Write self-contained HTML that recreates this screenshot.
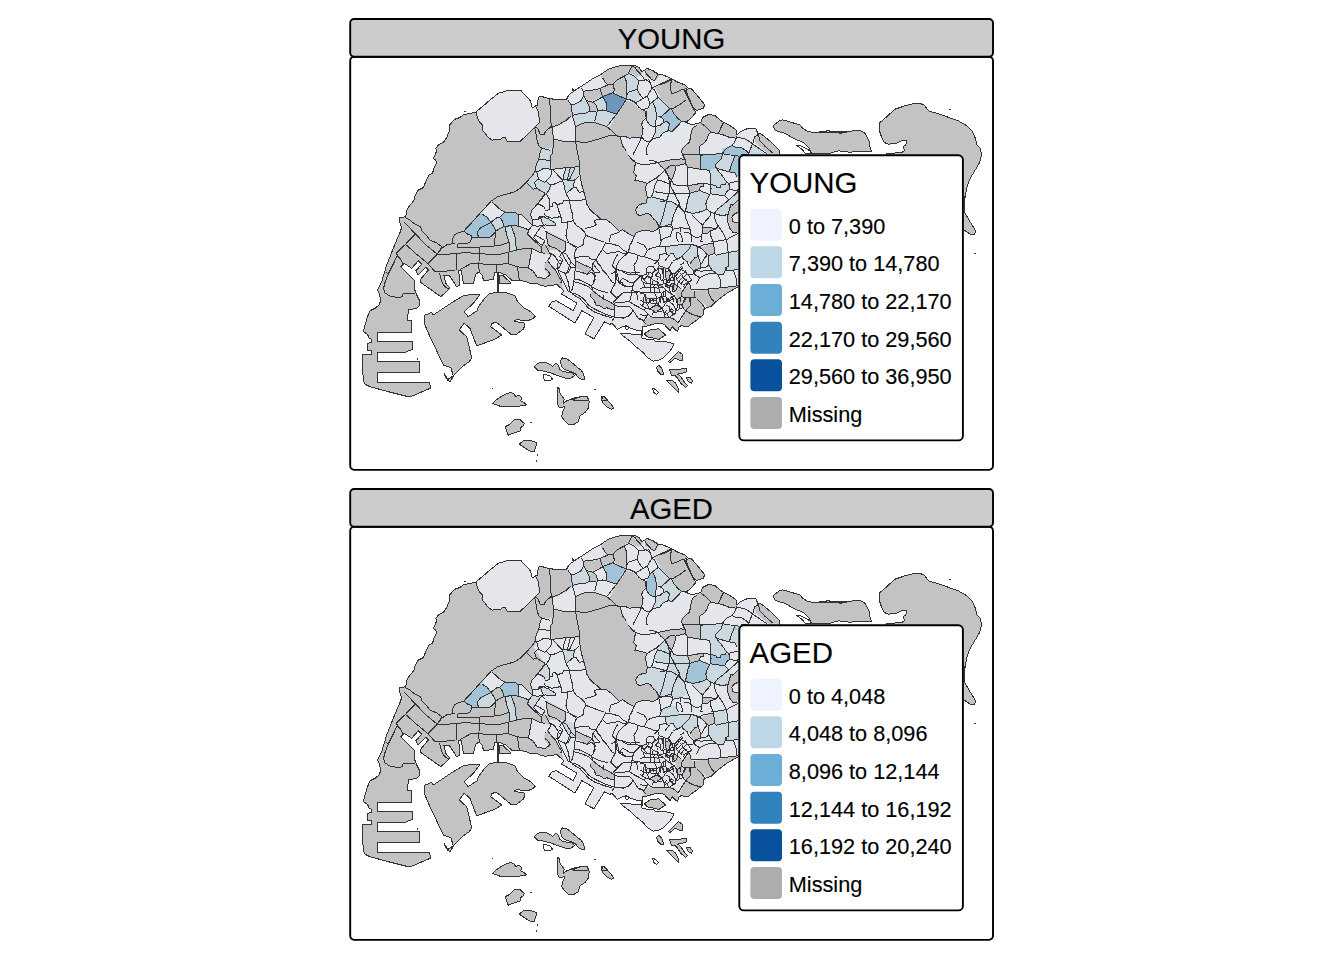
<!DOCTYPE html>
<html><head><meta charset="utf-8"><title>YOUNG / AGED</title>
<style>
html,body{margin:0;padding:0;background:#fff;}
body{width:1344px;height:960px;overflow:hidden;font-family:"Liberation Sans",sans-serif;}
svg{display:block;}
svg text{font-family:"Liberation Sans",sans-serif;fill:#000;stroke:#000;stroke-width:0.15px;}
</style></head><body>
<svg width="1344" height="960" viewBox="0 0 1344 960">
<defs>
<g id="basefill">
<path d="M415.0,195.8 418.3,190.0 421.3,188.7 423.3,187.5 425.8,181.7 429.2,175.0 432.5,173.3 434.2,167.5 436.3,163.3 435.8,160.0 433.3,158.7 435.0,155.0 436.7,150.8 435.8,148.3 438.3,145.0 443.3,142.5 446.7,137.5 448.3,133.3 450.0,130.8 449.7,125.0 451.7,122.5 455.0,119.2 460.0,117.5 463.3,115.0 469.2,113.3 475.8,112.5 478.3,110.0 483.3,105.8 490.0,100.0 498.3,93.3 506.7,90.8 520.8,90.3 524.2,94.2 528.3,98.3 530.8,101.7 531.7,106.7 533.3,107.5 535.0,105.8 537.5,105.0 538.3,97.5 540.8,96.3 548.3,98.3 556.7,99.7 566.7,99.2 568.3,95.8 571.7,92.5 573.3,91.7 572.5,88.3 574.2,90.8 583.3,85.0 593.3,78.3 600.0,75.0 608.3,69.2 616.7,66.3 626.7,65.0 635.0,65.3 639.2,67.5 641.7,71.7 645.0,70.0 646.7,68.3 653.3,70.8 658.3,74.2 663.3,75.0 670.8,78.3 676.7,81.7 685.0,85.0 687.5,87.5 684.2,89.7 686.7,95.0 691.7,105.0 694.2,110.0 695.8,112.5 691.7,117.5 686.7,121.7 685.0,122.0 691.7,124.7 698.3,123.3 700.8,122.5 702.5,117.5 708.8,114.4 715.0,115.6 720.0,120.0 723.8,122.5 730.0,125.6 736.2,130.0 736.9,135.0 740.0,131.9 745.0,129.4 750.0,128.1 755.6,128.5 758.1,133.8 760.0,133.1 765.0,136.9 770.0,141.2 775.0,146.2 779.4,150.6 779.4,156.2 800.0,170.0 900.0,230.0 900.0,270.0 760.0,288.0 738.3,286.7 726.7,293.3 720.0,298.3 713.3,304.2 710.8,306.7 706.7,307.5 703.3,310.0 703.3,315.0 696.7,320.0 690.0,325.0 688.3,326.7 681.7,325.8 679.4,326.2 677.5,331.2 675.6,330.0 672.5,326.9 670.0,330.6 667.5,328.1 664.4,324.4 660.0,323.1 655.0,323.8 646.2,326.2 643.1,326.2 641.9,330.0 636.2,330.0 630.0,328.1 626.2,325.6 622.5,326.9 617.5,329.4 611.9,323.1 610.0,324.4 604.4,321.9 593.8,338.8 585.0,333.8 593.8,317.5 581.9,310.6 575.0,323.1 548.8,306.2 551.9,301.9 556.2,300.6 573.1,310.6 576.9,303.1 561.2,293.8 563.8,291.2 562.5,289.4 559.4,286.9 556.9,284.4 551.2,285.6 545.0,286.2 540.0,285.0 536.2,283.1 530.0,283.8 526.7,281.7 518.3,280.0 512.5,280.8 505.8,275.0 498.3,272.0 495.0,272.5 493.3,279.3 487.5,280.3 483.3,280.0 482.5,275.8 479.2,271.7 475.8,274.2 473.3,283.3 463.3,283.3 461.3,270.3 458.7,270.3 460.0,285.3 456.7,286.7 449.2,275.3 443.7,275.0 445.8,283.3 450.0,288.3 440.8,296.7 426.7,286.7 420.8,282.5 420.0,280.0 428.3,270.0 425.8,267.5 418.3,275.0 415.8,270.8 421.7,264.2 418.3,260.8 411.7,268.3 404.2,263.3 400.8,266.7 414.2,280.0 414.2,288.3 416.7,295.0 419.2,300.0 420.0,305.0 416.7,308.3 408.3,310.0 407.5,320.0 411.7,320.8 411.7,332.5 377.5,332.5 377.5,341.3 412.5,341.3 412.5,349.2 405.0,352.5 377.5,352.5 377.5,352.5 377.5,361.3 419.2,361.3 419.2,372.5 377.5,372.5 377.5,382.5 429.2,382.5 430.8,388.0 411.7,396.3 408.3,396.7 388.3,391.7 370.0,386.7 365.0,384.2 363.3,380.0 362.5,365.0 362.5,354.7 362.5,355.0 371.7,354.2 371.7,350.8 367.5,350.0 367.5,343.3 371.7,342.5 371.7,339.2 369.2,338.3 367.5,334.2 363.3,331.7 365.0,325.0 367.5,316.7 370.0,310.8 375.0,308.3 379.2,305.0 380.8,300.0 379.2,293.3 377.5,290.0 379.2,286.7 381.7,281.7 384.2,273.3 386.7,265.0 390.0,256.7 393.3,248.3 396.7,240.0 400.0,232.5 401.7,227.5 400.0,223.3 399.2,218.0 405.8,216.7 406.7,210.8 408.3,207.5 414.2,200.0Z M620.6,333.8 625.0,333.1 630.0,333.8 636.2,335.0 641.2,334.4 641.9,338.1 647.5,339.4 653.8,340.0 656.2,341.9 665.0,341.2 668.8,342.5 673.8,343.8 672.5,347.5 668.8,352.5 663.8,357.5 658.8,360.0 653.1,361.2 647.5,357.5 642.5,351.9 637.5,348.1 630.0,341.2 625.0,337.5Z" fill="#E4E6EC"/>
<path d="M686.7,89.7 690.8,88.0 698.3,96.7 704.7,104.7 703.3,108.3 696.7,110.5 693.3,108.3 689.2,98.3 685.8,90.8Z M773.1,125.6 778.8,121.2 782.5,119.8 787.5,121.2 793.8,123.1 800.0,125.0 802.5,128.1 807.5,131.2 810.0,131.9 815.0,132.5 822.5,131.5 828.8,130.6 833.8,132.5 840.0,132.5 847.5,131.5 818.3,132.5 828.3,130.8 840.0,133.3 848.3,131.7 856.7,130.3 862.5,131.3 865.8,134.2 869.2,141.7 870.0,146.7 871.7,151.7 866.7,151.3 852.5,151.3 851.7,152.5 838.3,150.8 828.3,153.7 811.7,153.7 809.2,148.3 803.3,142.5 793.3,138.3 785.0,133.3 778.3,131.7 775.0,130.0Z M880.0,122.5 886.7,116.7 895.0,109.2 905.0,105.8 915.0,103.3 923.3,104.2 926.7,108.3 928.3,110.8 936.7,113.3 946.7,116.7 958.3,120.8 966.7,125.8 972.5,131.7 975.8,139.2 976.7,145.0 980.0,148.3 981.7,155.0 979.2,163.3 974.2,171.7 969.2,180.0 966.7,188.3 965.0,198.3 964.2,196.7 964.2,211.7 970.0,221.7 974.2,228.3 975.8,231.7 974.2,235.0 970.0,234.2 964.2,230.0 956.7,223.3 956.7,180.0 920.0,163.3 886.7,160.0 886.7,153.7 901.7,152.5 904.7,150.8 903.3,146.7 905.8,145.0 906.7,140.8 901.7,140.8 896.7,143.3 888.3,144.2 884.2,142.5 881.7,137.5 879.2,130.0Z M425.0,315.0 431.7,312.5 433.3,315.0 443.3,308.3 453.3,301.7 463.3,295.8 473.3,294.2 479.2,294.2 479.2,295.8 473.3,303.3 464.2,311.7 468.3,316.7 474.2,312.5 477.5,310.8 478.3,306.7 483.3,300.0 490.0,293.3 498.3,292.5 506.7,293.0 515.0,295.8 517.5,301.7 523.3,307.5 530.8,311.7 535.3,316.7 535.8,316.7 530.8,319.7 525.0,321.0 516.7,319.3 514.2,321.3 524.2,323.0 525.0,325.3 523.3,329.2 516.7,334.2 510.8,334.2 496.7,322.5 491.7,323.3 490.8,326.7 501.7,335.0 495.0,339.2 476.7,345.8 472.5,335.0 470.0,328.3 464.2,323.3 459.2,330.0 466.7,336.7 468.3,343.3 470.3,351.7 471.7,358.3 469.2,361.7 463.3,365.8 454.2,375.0 450.0,381.7 447.5,380.0 445.0,375.8 444.7,373.3 445.3,375.8 448.3,379.2 453.3,375.8 450.8,367.5 443.3,365.0 436.7,350.8 430.0,336.7 424.2,323.3 425.0,315.0Z M644.4,333.8 650.0,330.0 658.8,328.8 665.6,335.0 658.8,339.4 653.8,338.1 647.5,336.9Z M534.2,366.7 537.5,363.3 543.3,362.0 548.3,363.3 552.5,366.3 555.8,363.3 558.3,365.0 559.7,369.2 563.3,371.7 570.0,372.5 573.3,373.3 574.2,375.8 570.8,378.3 565.0,378.0 558.3,375.8 551.7,373.3 545.0,371.3 537.5,370.0Z M560.3,360.8 562.5,358.0 566.7,358.7 571.7,362.5 576.7,366.7 580.8,370.0 583.3,373.3 585.0,379.2 581.7,379.2 578.3,377.5 575.0,373.3 570.8,371.7 565.0,369.7 561.7,366.7Z M492.5,403.3 498.3,398.3 505.0,394.2 510.8,392.5 514.2,394.2 515.8,396.7 519.2,395.0 521.7,397.5 520.8,400.8 526.7,404.2 525.0,405.5 513.3,406.7 500.0,406.2Z M557.5,387.5 559.2,388.3 560.0,393.3 562.5,396.7 564.2,399.2 563.3,403.3 566.7,400.8 573.3,398.3 581.7,396.3 586.7,396.7 589.2,401.7 588.3,408.3 585.0,412.5 580.0,415.8 578.3,421.7 573.3,424.7 568.3,424.2 564.2,420.0 561.7,416.7 562.5,411.7 565.0,406.7 559.2,407.5 557.0,403.3 558.0,396.7Z M601.3,396.7 603.3,396.3 606.7,400.0 611.7,405.0 613.8,408.3 611.7,409.2 606.7,406.7 602.5,402.5Z M505.0,426.7 510.0,424.2 514.2,420.0 520.0,419.7 524.2,423.3 523.7,425.8 520.8,427.5 520.0,431.3 515.0,432.5 508.3,435.3Z M519.2,444.2 524.2,440.0 530.0,440.5 536.7,442.5 535.8,446.7 534.2,452.0 529.2,450.8 524.2,447.5Z M668.3,361.7 673.3,356.7 678.3,351.7 682.5,354.2 683.0,360.3 679.2,360.0 675.0,358.3 670.0,362.5Z M656.3,367.5 658.7,365.3 661.7,368.3 663.7,374.2 660.8,374.2 658.0,371.7Z M669.2,369.2 675.0,370.0 680.0,369.2 686.7,368.3 686.7,371.7 681.7,373.3 677.5,374.2 680.0,375.8 684.2,381.7 687.5,385.8 685.8,387.5 680.8,383.3 677.5,378.3 675.0,375.0 671.7,375.8Z M666.7,380.8 671.7,380.0 675.8,383.3 678.3,388.3 678.3,392.5 674.2,388.3 670.0,384.2Z M686.3,378.0 689.7,377.0 692.5,380.8 691.3,383.3 688.0,381.3Z M572.5,400.0 580.0,396.9 587.5,396.2 588.8,400.0Z M601.2,400.0 603.8,396.2 608.1,400.0Z M499.0,275.2 502.8,275.4 511.1,283.2 499.0,283.2Z" fill="#C3C3C3"/>
<g clip-path="url(#landclip)">
<path d="M535.0,108.3 533.3,103.3 537.5,101.7 538.3,94.2 540.8,93.3 548.3,95.3 556.7,97.0 566.7,96.7 569.2,93.3 567.5,99.7 570.0,104.2 572.5,110.0 571.7,116.7 566.7,121.7 560.0,124.2 556.7,126.7 552.0,127.5 553.3,140.0 552.5,148.3 540.8,148.3 538.3,143.3 536.7,133.3 535.0,127.5 539.2,123.0 538.3,115.0 536.7,108.3Z M553.3,140.0 562.5,141.7 560.0,141.3 576.2,142.0 577.5,153.3 578.7,167.5 570.0,168.0 560.0,168.3 552.5,169.2 551.7,160.0 552.5,148.3Z M400.0,220.0 403.3,206.7 410.0,200.0 413.3,193.3 416.7,188.3 421.7,185.0 424.2,180.0 427.5,173.3 430.8,171.7 432.5,166.7 434.2,162.5 431.7,159.2 433.3,154.2 434.2,148.3 436.7,143.3 441.7,140.8 445.0,135.8 446.7,131.7 448.0,125.0 450.0,120.8 453.3,117.5 458.3,115.8 461.7,113.3 468.3,111.7 475.8,110.0 483.3,103.3 496.7,91.7 506.7,88.3 521.7,88.3 526.7,93.3 531.7,100.0 533.3,107.5 535.0,105.8 536.7,108.3 538.3,115.0 539.2,123.0 535.0,127.5 536.7,133.3 538.3,143.3 540.8,148.3 539.2,158.3 535.8,165.0 536.7,173.3 533.3,176.7 545.0,194.2 545.6,195.0 540.4,200.2 536.2,205.4 531.6,210.6 530.5,214.3 532.6,221.0 532.6,225.2 531.6,226.2 529.0,229.9 527.4,234.1 533.1,239.8 541.5,247.1 543.5,242.9 546.7,246.0 549.3,253.3 549.3,254.9 542.5,252.8 538.3,251.8 532.1,249.2 529.2,263.8 528.4,267.9 533.1,271.0 537.3,277.3 544.6,278.3 548.8,275.2 544.6,270.0 544.6,264.3 547.2,260.6 551.9,265.8 556.6,272.1 559.2,278.3 561.2,281.5 562.8,285.6 563.9,295.0 445.0,296.0 445.0,420.0 340.0,420.0 340.0,300.0 356.7,360.0 356.7,200.0Z M546.7,230.9 555.0,235.1 565.4,240.8 565.4,251.2 557.6,249.2 548.8,246.0 546.7,241.9Z M576.4,260.6 583.1,264.3 591.5,267.9 588.3,274.7 581.6,271.6 575.8,267.9Z M576.2,125.8 585.0,122.0 593.3,122.0 600.8,124.2 607.5,128.0 610.0,126.7 617.5,113.3 626.7,100.8 633.3,102.5 638.3,108.3 645.0,110.0 645.8,117.5 642.5,120.0 642.0,125.0 643.3,133.3 640.8,139.2 638.3,137.0 630.0,137.5 623.3,135.8 620.3,137.0 623.3,145.0 626.7,150.0 625.9,150.0 627.5,153.1 630.6,158.3 635.3,162.5 634.8,167.7 633.8,172.4 636.4,176.0 634.8,180.2 640.0,181.2 647.3,183.3 645.2,187.5 646.2,191.7 647.3,197.9 646.2,203.1 642.6,203.6 638.4,205.2 635.8,209.4 636.4,213.5 640.0,216.1 643.1,214.6 647.3,213.0 650.4,214.6 653.5,218.8 656.7,221.9 658.8,226.0 657.7,229.2 653.5,231.2 645.2,230.7 639.0,231.2 635.8,233.3 634.3,236.5 630.6,234.9 626.5,232.3 622.8,229.7 619.2,231.2 615.0,227.1 610.8,222.9 606.7,219.8 600.9,219.3 598.3,216.7 594.2,213.5 590.0,209.4 586.9,204.2 585.8,199.0 583.8,191.7 581.7,184.4 580.1,176.0 579.1,160.4 578.0,150.0 576.7,146.7 576.2,142.5 575.3,131.7Z M600.8,76.7 608.3,67.5 616.7,64.7 626.7,63.3 629.2,67.5 628.3,72.5 624.2,75.8 618.3,78.3 613.3,82.5 610.0,85.0 605.0,83.3 602.5,79.2Z M613.3,82.5 618.3,78.3 624.2,75.8 626.7,81.7 627.5,90.0 626.7,97.5 624.2,98.3 617.5,95.8 614.2,90.0Z M583.3,92.5 587.5,90.8 600.8,89.7 603.3,86.7 610.0,85.0 613.3,82.5 614.2,90.0 613.3,93.3 603.3,95.8 600.0,97.5 593.3,100.8 586.7,100.0 584.2,95.8Z M628.3,67.5 626.7,62.5 635.0,63.3 640.8,65.8 643.3,71.7 640.8,75.8 636.7,76.7 633.3,74.2 630.0,73.3Z M645.0,70.0 645.8,66.7 653.3,68.3 660.0,73.3 656.7,80.0 652.5,80.8 649.2,77.5 645.0,76.7Z M655.0,87.5 663.3,82.5 670.8,76.7 676.7,79.2 686.7,83.3 690.0,87.5 686.7,89.7 689.2,95.0 693.3,105.0 695.8,110.0 698.3,112.5 691.7,117.5 686.7,121.7 682.5,120.0 676.7,113.3 670.0,109.2 666.7,105.0 661.7,98.3 657.5,92.5Z M693.3,126.7 700.0,124.2 705.8,124.2 710.0,130.0 707.5,134.2 706.7,140.0 703.3,142.5 699.2,145.0 699.2,155.0 700.0,166.7 699.2,169.2 686.7,166.7 684.2,158.3 682.5,154.2 683.3,150.8 688.3,146.7 690.0,140.0 690.8,131.7Z M709.6,290.0 724.2,287.9 738.2,285.8 739.8,289.0 734.6,291.6 729.4,295.2 724.2,298.3 720.0,299.9 716.9,303.0 714.8,302.5 711.7,299.4 709.1,294.2 708.5,291.6Z M695.0,291.0 708.5,289.0 708.5,291.6 709.1,294.2 711.7,299.4 714.8,302.5 712.7,308.2 708.5,308.2 702.3,301.5 697.1,298.3 694.5,296.8Z M691.4,297.3 694.5,296.8 697.1,298.3 702.3,301.5 704.4,307.7 705.4,310.8 703.3,314.0 700.2,317.1 695.0,314.5 689.3,310.8 689.8,304.6Z M682.5,301.5 685.6,298.9 691.4,297.3 689.8,304.6 689.3,310.8 686.7,310.8 683.5,306.7Z M686.7,310.8 689.3,310.8 695.0,314.5 700.2,317.1 697.1,319.7 694.0,322.8 691.9,326.5 688.2,326.5 686.7,324.9 682.5,328.0 679.9,323.3 682.5,317.1Z M682.5,291.0 686.7,286.9 688.8,284.8 691.9,291.0 694.5,291.0 694.5,296.8 691.4,297.3 685.6,298.9 682.5,298.3Z M674.7,289.0 678.3,286.9 682.5,291.0 682.5,298.3 679.9,301.5 676.8,298.3 675.2,293.1Z M643.4,321.2 646.0,318.6 651.2,317.1 664.8,317.1 674.2,318.6 678.3,322.3 678.9,330.6 676.8,333.2 674.2,330.1 672.1,329.1 670.0,332.2 667.9,328.0 665.8,324.9 662.7,323.9 658.5,324.4 653.3,325.9 648.1,328.0 643.4,330.1Z M650.2,307.7 656.5,305.1 661.1,307.7 655.4,312.4Z M665.3,273.3 667.9,271.2 671.0,273.3 671.0,277.5 667.9,280.1 665.3,277.5Z M689.8,265.0 695.0,257.7 697.6,258.8 700.2,267.1 695.0,270.2 692.9,268.6Z M701.2,247.3 712.7,243.6 714.3,247.8 714.8,253.5 708.5,255.6 705.4,252.5Z M679.9,298.3 682.5,298.3 681.5,303.5 678.9,304.6 676.8,302.5Z M674.2,285.8 676.8,284.8 678.3,286.9 676.2,291.0 674.4,289.5Z M586.4,100.6 593.1,102.2 596.8,105.8 597.3,111.0 590.0,111.0 589.0,105.8Z M660.0,85.0 666.2,82.4 672.0,79.3 672.5,77.7 680.8,81.4 687.6,84.5 687.3,86.9 683.8,89.2 685.0,94.4 686.6,100.1 689.2,103.8 692.3,109.0 693.3,111.6 695.9,112.1 695.9,114.7 691.2,119.4 688.1,121.5 684.5,122.0 681.9,121.5 677.7,118.3 673.5,113.1 671.5,109.0 668.9,105.8 665.2,101.7 660.0,99.6Z M700.1,121.5 700.1,117.3 703.8,114.7 709.0,113.1 713.1,114.2 717.3,117.3 722.5,120.4 726.7,123.5 731.9,126.1 737.1,128.2 738.1,131.9 736.6,136.0 736.0,138.1 728.8,137.1 723.5,135.0 718.3,133.4 714.2,132.9 711.0,131.9 707.9,128.8 703.8,125.1Z M697.0,125.1 700.1,122.5 703.8,125.1 707.9,128.8 711.0,131.9 708.4,135.0 706.4,140.2 703.8,143.3 699.1,146.5 699.6,154.3 699.6,160.0 682.4,160.0 682.9,154.3 681.4,151.7 682.4,148.5 686.0,144.9 689.2,142.3 690.7,137.1 691.2,131.9 693.3,127.7Z M754.3,137.1 757.4,135.0 757.9,132.9 760.0,131.9 764.2,135.0 769.4,140.2 774.6,145.4 780.3,150.6 780.8,153.8 768.3,153.8 764.2,150.6 760.0,146.5 755.8,143.3Z M551.5,150.0 578.0,150.0 579.1,166.7 566.0,167.7 552.0,169.3 550.9,160.4Z M657.7,162.5 660.8,161.7 660.8,165.6Z M546.8,232.3 552.5,235.4 558.8,238.5 565.0,241.7 565.5,250.0 547.3,250.0Z M540.0,192.7 543.1,193.8 540.0,197.9Z M682.4,150.0 699.6,150.0 700.1,155.2 700.6,169.3 694.4,168.2 687.6,167.2 685.5,163.5 685.0,159.4 682.4,154.2Z M660.0,161.5 666.2,160.4 672.5,159.9 680.8,158.5 685.0,159.4 685.5,163.8 680.8,165.1 675.6,166.1 670.4,165.6 665.2,169.8 662.1,167.7 660.0,165.6Z M665.2,169.8 670.4,165.6 675.6,166.1 675.1,170.8 673.5,176.0 671.5,180.2 669.4,178.1 667.3,174.0Z M687.6,185.9 694.4,184.4 703.2,183.3 703.2,186.5 700.1,187.0 699.6,190.6 695.4,191.7 690.2,192.9 688.1,189.6Z M728.2,204.2 732.9,205.2 738.1,200.0 742.3,200.0 742.3,233.3 738.1,233.3 732.9,232.3 729.8,228.1 727.7,221.9 727.2,216.7 728.8,210.4Z M702.7,228.1 710.0,227.1 715.2,229.2 710.0,231.2 707.4,233.3 703.2,233.3Z M706.9,245.3 714.2,243.8 714.2,250.0 701.7,250.0 703.8,247.4Z M590.0,293.6 593.1,291.0 598.3,295.2 604.6,299.4 610.8,302.5 614.0,304.6 614.5,309.8 610.8,309.3 606.7,307.7 604.6,308.8 600.4,306.1 596.2,305.6 594.2,300.4 591.0,297.3Z M665.6,272.4 669.2,270.3 670.8,273.2 669.8,276.2 668.8,280.3 666.7,280.3 665.4,276.2Z M674.6,283.7 676.7,285.3 677.5,287.4 675.4,290.8 674.2,291.2 673.8,287.8 672.9,285.8Z" fill="#C3C3C3"/>
<path d="M475.8,112.5 477.5,116.7 480.0,124.2 483.3,126.7 482.5,130.0 485.0,133.3 488.3,137.5 491.7,140.3 500.8,139.2 503.3,137.5 505.8,138.3 507.5,141.3 520.0,141.3 535.0,127.5 539.2,123.0 538.3,115.0 536.7,108.3 535.0,105.0 532.5,109.2 530.0,100.0 523.3,92.5 520.8,88.3 506.7,88.7 496.7,91.7 483.3,104.2Z M552.0,127.5 556.7,126.7 560.0,124.2 566.7,121.7 571.7,116.7 574.2,117.5 575.3,126.7 576.2,142.0 560.0,141.3 553.3,140.0Z M491.5,201.8 496.1,205.4 499.8,209.1 505.0,212.2 499.8,217.4 496.7,217.9 490.9,222.3 487.3,217.4 481.6,213.8 486.2,206.5Z M518.8,214.8 521.7,214.8 526.9,220.0 532.6,225.2 531.6,226.2 529.0,229.9 518.8,226.2Z M731.9,216.7 735.0,213.5 742.3,212.5 742.3,222.9 735.0,222.9 732.4,220.8Z M537.2,171.9 542.9,168.8 546.6,168.2 551.8,169.3 552.3,169.8 556.5,175.0 560.0,177.6 560.0,182.3 551.8,185.4 545.0,182.3 538.2,179.2 537.7,174.0Z" fill="#E4E6EC"/>
</g>
</g>
<clipPath id="landclip"><path d="M415.0,195.8 418.3,190.0 421.3,188.7 423.3,187.5 425.8,181.7 429.2,175.0 432.5,173.3 434.2,167.5 436.3,163.3 435.8,160.0 433.3,158.7 435.0,155.0 436.7,150.8 435.8,148.3 438.3,145.0 443.3,142.5 446.7,137.5 448.3,133.3 450.0,130.8 449.7,125.0 451.7,122.5 455.0,119.2 460.0,117.5 463.3,115.0 469.2,113.3 475.8,112.5 478.3,110.0 483.3,105.8 490.0,100.0 498.3,93.3 506.7,90.8 520.8,90.3 524.2,94.2 528.3,98.3 530.8,101.7 531.7,106.7 533.3,107.5 535.0,105.8 537.5,105.0 538.3,97.5 540.8,96.3 548.3,98.3 556.7,99.7 566.7,99.2 568.3,95.8 571.7,92.5 573.3,91.7 572.5,88.3 574.2,90.8 583.3,85.0 593.3,78.3 600.0,75.0 608.3,69.2 616.7,66.3 626.7,65.0 635.0,65.3 639.2,67.5 641.7,71.7 645.0,70.0 646.7,68.3 653.3,70.8 658.3,74.2 663.3,75.0 670.8,78.3 676.7,81.7 685.0,85.0 687.5,87.5 684.2,89.7 686.7,95.0 691.7,105.0 694.2,110.0 695.8,112.5 691.7,117.5 686.7,121.7 685.0,122.0 691.7,124.7 698.3,123.3 700.8,122.5 702.5,117.5 708.8,114.4 715.0,115.6 720.0,120.0 723.8,122.5 730.0,125.6 736.2,130.0 736.9,135.0 740.0,131.9 745.0,129.4 750.0,128.1 755.6,128.5 758.1,133.8 760.0,133.1 765.0,136.9 770.0,141.2 775.0,146.2 779.4,150.6 779.4,156.2 800.0,170.0 900.0,230.0 900.0,270.0 760.0,288.0 738.3,286.7 726.7,293.3 720.0,298.3 713.3,304.2 710.8,306.7 706.7,307.5 703.3,310.0 703.3,315.0 696.7,320.0 690.0,325.0 688.3,326.7 681.7,325.8 679.4,326.2 677.5,331.2 675.6,330.0 672.5,326.9 670.0,330.6 667.5,328.1 664.4,324.4 660.0,323.1 655.0,323.8 646.2,326.2 643.1,326.2 641.9,330.0 636.2,330.0 630.0,328.1 626.2,325.6 622.5,326.9 617.5,329.4 611.9,323.1 610.0,324.4 604.4,321.9 593.8,338.8 585.0,333.8 593.8,317.5 581.9,310.6 575.0,323.1 548.8,306.2 551.9,301.9 556.2,300.6 573.1,310.6 576.9,303.1 561.2,293.8 563.8,291.2 562.5,289.4 559.4,286.9 556.9,284.4 551.2,285.6 545.0,286.2 540.0,285.0 536.2,283.1 530.0,283.8 526.7,281.7 518.3,280.0 512.5,280.8 505.8,275.0 498.3,272.0 495.0,272.5 493.3,279.3 487.5,280.3 483.3,280.0 482.5,275.8 479.2,271.7 475.8,274.2 473.3,283.3 463.3,283.3 461.3,270.3 458.7,270.3 460.0,285.3 456.7,286.7 449.2,275.3 443.7,275.0 445.8,283.3 450.0,288.3 440.8,296.7 426.7,286.7 420.8,282.5 420.0,280.0 428.3,270.0 425.8,267.5 418.3,275.0 415.8,270.8 421.7,264.2 418.3,260.8 411.7,268.3 404.2,263.3 400.8,266.7 414.2,280.0 414.2,288.3 416.7,295.0 419.2,300.0 420.0,305.0 416.7,308.3 408.3,310.0 407.5,320.0 411.7,320.8 411.7,332.5 377.5,332.5 377.5,341.3 412.5,341.3 412.5,349.2 405.0,352.5 377.5,352.5 377.5,352.5 377.5,361.3 419.2,361.3 419.2,372.5 377.5,372.5 377.5,382.5 429.2,382.5 430.8,388.0 411.7,396.3 408.3,396.7 388.3,391.7 370.0,386.7 365.0,384.2 363.3,380.0 362.5,365.0 362.5,354.7 362.5,355.0 371.7,354.2 371.7,350.8 367.5,350.0 367.5,343.3 371.7,342.5 371.7,339.2 369.2,338.3 367.5,334.2 363.3,331.7 365.0,325.0 367.5,316.7 370.0,310.8 375.0,308.3 379.2,305.0 380.8,300.0 379.2,293.3 377.5,290.0 379.2,286.7 381.7,281.7 384.2,273.3 386.7,265.0 390.0,256.7 393.3,248.3 396.7,240.0 400.0,232.5 401.7,227.5 400.0,223.3 399.2,218.0 405.8,216.7 406.7,210.8 408.3,207.5 414.2,200.0Z M620.6,333.8 625.0,333.1 630.0,333.8 636.2,335.0 641.2,334.4 641.9,338.1 647.5,339.4 653.8,340.0 656.2,341.9 665.0,341.2 668.8,342.5 673.8,343.8 672.5,347.5 668.8,352.5 663.8,357.5 658.8,360.0 653.1,361.2 647.5,357.5 642.5,351.9 637.5,348.1 630.0,341.2 625.0,337.5Z"/></clipPath>
<g id="lines" fill="none" stroke="#333333" stroke-width="1" stroke-linejoin="round" shape-rendering="crispEdges">
<path d="M415.0,195.8 418.3,190.0 421.3,188.7 423.3,187.5 425.8,181.7 429.2,175.0 432.5,173.3 434.2,167.5 436.3,163.3 435.8,160.0 433.3,158.7 435.0,155.0 436.7,150.8 435.8,148.3 438.3,145.0 443.3,142.5 446.7,137.5 448.3,133.3 450.0,130.8 449.7,125.0 451.7,122.5 455.0,119.2 460.0,117.5 463.3,115.0 469.2,113.3 475.8,112.5 478.3,110.0 483.3,105.8 490.0,100.0 498.3,93.3 506.7,90.8 520.8,90.3 524.2,94.2 528.3,98.3 530.8,101.7 531.7,106.7 533.3,107.5 535.0,105.8 537.5,105.0 538.3,97.5 540.8,96.3 548.3,98.3 556.7,99.7 566.7,99.2 568.3,95.8 571.7,92.5 573.3,91.7 572.5,88.3 574.2,90.8 583.3,85.0 593.3,78.3 600.0,75.0 608.3,69.2 616.7,66.3 626.7,65.0 635.0,65.3 639.2,67.5 641.7,71.7 645.0,70.0 646.7,68.3 653.3,70.8 658.3,74.2 663.3,75.0 670.8,78.3 676.7,81.7 685.0,85.0 687.5,87.5 684.2,89.7 686.7,95.0 691.7,105.0 694.2,110.0 695.8,112.5 691.7,117.5 686.7,121.7 685.0,122.0 691.7,124.7 698.3,123.3 700.8,122.5 702.5,117.5 708.8,114.4 715.0,115.6 720.0,120.0 723.8,122.5 730.0,125.6 736.2,130.0 736.9,135.0 740.0,131.9 745.0,129.4 750.0,128.1 755.6,128.5 758.1,133.8 760.0,133.1 765.0,136.9 770.0,141.2 775.0,146.2 779.4,150.6 779.4,156.2 800.0,170.0 900.0,230.0 900.0,270.0 760.0,288.0 738.3,286.7 726.7,293.3 720.0,298.3 713.3,304.2 710.8,306.7 706.7,307.5 703.3,310.0 703.3,315.0 696.7,320.0 690.0,325.0 688.3,326.7 681.7,325.8 679.4,326.2 677.5,331.2 675.6,330.0 672.5,326.9 670.0,330.6 667.5,328.1 664.4,324.4 660.0,323.1 655.0,323.8 646.2,326.2 643.1,326.2 641.9,330.0 636.2,330.0 630.0,328.1 626.2,325.6 622.5,326.9 617.5,329.4 611.9,323.1 610.0,324.4 604.4,321.9 593.8,338.8 585.0,333.8 593.8,317.5 581.9,310.6 575.0,323.1 548.8,306.2 551.9,301.9 556.2,300.6 573.1,310.6 576.9,303.1 561.2,293.8 563.8,291.2 562.5,289.4 559.4,286.9 556.9,284.4 551.2,285.6 545.0,286.2 540.0,285.0 536.2,283.1 530.0,283.8 526.7,281.7 518.3,280.0 512.5,280.8 505.8,275.0 498.3,272.0 495.0,272.5 493.3,279.3 487.5,280.3 483.3,280.0 482.5,275.8 479.2,271.7 475.8,274.2 473.3,283.3 463.3,283.3 461.3,270.3 458.7,270.3 460.0,285.3 456.7,286.7 449.2,275.3 443.7,275.0 445.8,283.3 450.0,288.3 440.8,296.7 426.7,286.7 420.8,282.5 420.0,280.0 428.3,270.0 425.8,267.5 418.3,275.0 415.8,270.8 421.7,264.2 418.3,260.8 411.7,268.3 404.2,263.3 400.8,266.7 414.2,280.0 414.2,288.3 416.7,295.0 419.2,300.0 420.0,305.0 416.7,308.3 408.3,310.0 407.5,320.0 411.7,320.8 411.7,332.5 377.5,332.5 377.5,341.3 412.5,341.3 412.5,349.2 405.0,352.5 377.5,352.5 377.5,352.5 377.5,361.3 419.2,361.3 419.2,372.5 377.5,372.5 377.5,382.5 429.2,382.5 430.8,388.0 411.7,396.3 408.3,396.7 388.3,391.7 370.0,386.7 365.0,384.2 363.3,380.0 362.5,365.0 362.5,354.7 362.5,355.0 371.7,354.2 371.7,350.8 367.5,350.0 367.5,343.3 371.7,342.5 371.7,339.2 369.2,338.3 367.5,334.2 363.3,331.7 365.0,325.0 367.5,316.7 370.0,310.8 375.0,308.3 379.2,305.0 380.8,300.0 379.2,293.3 377.5,290.0 379.2,286.7 381.7,281.7 384.2,273.3 386.7,265.0 390.0,256.7 393.3,248.3 396.7,240.0 400.0,232.5 401.7,227.5 400.0,223.3 399.2,218.0 405.8,216.7 406.7,210.8 408.3,207.5 414.2,200.0Z M686.7,89.7 690.8,88.0 698.3,96.7 704.7,104.7 703.3,108.3 696.7,110.5 693.3,108.3 689.2,98.3 685.8,90.8Z M773.1,125.6 778.8,121.2 782.5,119.8 787.5,121.2 793.8,123.1 800.0,125.0 802.5,128.1 807.5,131.2 810.0,131.9 815.0,132.5 822.5,131.5 828.8,130.6 833.8,132.5 840.0,132.5 847.5,131.5 818.3,132.5 828.3,130.8 840.0,133.3 848.3,131.7 856.7,130.3 862.5,131.3 865.8,134.2 869.2,141.7 870.0,146.7 871.7,151.7 866.7,151.3 852.5,151.3 851.7,152.5 838.3,150.8 828.3,153.7 811.7,153.7 809.2,148.3 803.3,142.5 793.3,138.3 785.0,133.3 778.3,131.7 775.0,130.0Z M880.0,122.5 886.7,116.7 895.0,109.2 905.0,105.8 915.0,103.3 923.3,104.2 926.7,108.3 928.3,110.8 936.7,113.3 946.7,116.7 958.3,120.8 966.7,125.8 972.5,131.7 975.8,139.2 976.7,145.0 980.0,148.3 981.7,155.0 979.2,163.3 974.2,171.7 969.2,180.0 966.7,188.3 965.0,198.3 964.2,196.7 964.2,211.7 970.0,221.7 974.2,228.3 975.8,231.7 974.2,235.0 970.0,234.2 964.2,230.0 956.7,223.3 956.7,180.0 920.0,163.3 886.7,160.0 886.7,153.7 901.7,152.5 904.7,150.8 903.3,146.7 905.8,145.0 906.7,140.8 901.7,140.8 896.7,143.3 888.3,144.2 884.2,142.5 881.7,137.5 879.2,130.0Z M425.0,315.0 431.7,312.5 433.3,315.0 443.3,308.3 453.3,301.7 463.3,295.8 473.3,294.2 479.2,294.2 479.2,295.8 473.3,303.3 464.2,311.7 468.3,316.7 474.2,312.5 477.5,310.8 478.3,306.7 483.3,300.0 490.0,293.3 498.3,292.5 506.7,293.0 515.0,295.8 517.5,301.7 523.3,307.5 530.8,311.7 535.3,316.7 535.8,316.7 530.8,319.7 525.0,321.0 516.7,319.3 514.2,321.3 524.2,323.0 525.0,325.3 523.3,329.2 516.7,334.2 510.8,334.2 496.7,322.5 491.7,323.3 490.8,326.7 501.7,335.0 495.0,339.2 476.7,345.8 472.5,335.0 470.0,328.3 464.2,323.3 459.2,330.0 466.7,336.7 468.3,343.3 470.3,351.7 471.7,358.3 469.2,361.7 463.3,365.8 454.2,375.0 450.0,381.7 447.5,380.0 445.0,375.8 444.7,373.3 445.3,375.8 448.3,379.2 453.3,375.8 450.8,367.5 443.3,365.0 436.7,350.8 430.0,336.7 424.2,323.3 425.0,315.0Z M620.6,333.8 625.0,333.1 630.0,333.8 636.2,335.0 641.2,334.4 641.9,338.1 647.5,339.4 653.8,340.0 656.2,341.9 665.0,341.2 668.8,342.5 673.8,343.8 672.5,347.5 668.8,352.5 663.8,357.5 658.8,360.0 653.1,361.2 647.5,357.5 642.5,351.9 637.5,348.1 630.0,341.2 625.0,337.5Z M644.4,333.8 650.0,330.0 658.8,328.8 665.6,335.0 658.8,339.4 653.8,338.1 647.5,336.9Z M534.2,366.7 537.5,363.3 543.3,362.0 548.3,363.3 552.5,366.3 555.8,363.3 558.3,365.0 559.7,369.2 563.3,371.7 570.0,372.5 573.3,373.3 574.2,375.8 570.8,378.3 565.0,378.0 558.3,375.8 551.7,373.3 545.0,371.3 537.5,370.0Z M560.3,360.8 562.5,358.0 566.7,358.7 571.7,362.5 576.7,366.7 580.8,370.0 583.3,373.3 585.0,379.2 581.7,379.2 578.3,377.5 575.0,373.3 570.8,371.7 565.0,369.7 561.7,366.7Z M492.5,403.3 498.3,398.3 505.0,394.2 510.8,392.5 514.2,394.2 515.8,396.7 519.2,395.0 521.7,397.5 520.8,400.8 526.7,404.2 525.0,405.5 513.3,406.7 500.0,406.2Z M557.5,387.5 559.2,388.3 560.0,393.3 562.5,396.7 564.2,399.2 563.3,403.3 566.7,400.8 573.3,398.3 581.7,396.3 586.7,396.7 589.2,401.7 588.3,408.3 585.0,412.5 580.0,415.8 578.3,421.7 573.3,424.7 568.3,424.2 564.2,420.0 561.7,416.7 562.5,411.7 565.0,406.7 559.2,407.5 557.0,403.3 558.0,396.7Z M601.3,396.7 603.3,396.3 606.7,400.0 611.7,405.0 613.8,408.3 611.7,409.2 606.7,406.7 602.5,402.5Z M505.0,426.7 510.0,424.2 514.2,420.0 520.0,419.7 524.2,423.3 523.7,425.8 520.8,427.5 520.0,431.3 515.0,432.5 508.3,435.3Z M519.2,444.2 524.2,440.0 530.0,440.5 536.7,442.5 535.8,446.7 534.2,452.0 529.2,450.8 524.2,447.5Z M668.3,361.7 673.3,356.7 678.3,351.7 682.5,354.2 683.0,360.3 679.2,360.0 675.0,358.3 670.0,362.5Z M656.3,367.5 658.7,365.3 661.7,368.3 663.7,374.2 660.8,374.2 658.0,371.7Z M669.2,369.2 675.0,370.0 680.0,369.2 686.7,368.3 686.7,371.7 681.7,373.3 677.5,374.2 680.0,375.8 684.2,381.7 687.5,385.8 685.8,387.5 680.8,383.3 677.5,378.3 675.0,375.0 671.7,375.8Z M666.7,380.8 671.7,380.0 675.8,383.3 678.3,388.3 678.3,392.5 674.2,388.3 670.0,384.2Z M686.3,378.0 689.7,377.0 692.5,380.8 691.3,383.3 688.0,381.3Z M572.5,400.0 580.0,396.9 587.5,396.2 588.8,400.0Z M601.2,400.0 603.8,396.2 608.1,400.0Z M499.0,275.2 502.8,275.4 511.1,283.2 499.0,283.2Z"/>
<path d="M543.3,374.2 546.7,375.0 550.0,375.8 552.5,379.2 549.2,380.8 544.2,380.0Z M652.5,388.3 655.0,389.2 658.3,392.5 656.7,394.2 654.2,393.0Z M625.2,327.0 626.9,326.0 628.8,326.8 629.0,328.5 627.2,329.5 625.6,328.8Z M796.7,145.3 800.8,145.8 810.0,150.8 810.8,153.7 805.8,153.7 801.7,149.2Z" fill="#fff"/>
<path d="M567.6,99.6 569.7,102.7 571.2,104.8 571.8,109.0 572.3,115.7 574.4,122.5 575.4,126.7 575.4,141.2 577.0,149.6 577.8,155.0 M548.9,98.8 550.4,106.9 550.4,114.2 550.9,122.5 552.0,127.7 553.5,138.1 553.0,148.5 552.0,153.8 551.8,155.0 M550.9,126.7 546.2,130.8 545.0,132.7 M552.0,127.2 558.8,124.6 566.0,120.4 571.2,115.7 M553.5,139.7 561.4,140.2 562.9,141.8 575.4,141.8 M545.0,149.0 546.2,149.1 550.4,150.6 M572.3,115.7 575.4,114.2 584.8,113.6 589.0,111.6 596.2,111.6 M575.4,126.7 581.7,123.5 589.0,122.0 594.2,122.5 600.4,124.6 606.7,126.7 611.9,130.8 616.0,135.0 620.2,137.1 M575.4,141.8 586.9,142.3 598.3,139.2 607.7,136.0 615.0,135.0 620.2,137.1 622.3,136.0 625.4,136.6 629.6,138.1 635.8,137.6 641.6,137.1 M620.2,137.1 622.3,145.4 625.9,150.6 M641.6,137.1 639.0,143.3 635.8,149.6 633.2,153.8 633.3,155.0 M606.7,126.7 611.9,119.9 616.6,114.2 622.3,105.8 626.5,99.1 M626.5,99.1 630.6,100.1 634.8,102.7 637.9,105.8 641.6,109.5 645.2,111.0 646.2,118.3 643.1,120.4 641.6,124.6 643.1,128.8 641.6,137.1 M602.5,96.5 612.9,92.8 620.2,96.5 626.5,99.1 M602.5,96.5 606.1,102.7 606.7,111.0 616.6,114.2 M583.2,91.2 592.1,90.2 599.9,88.6 602.5,96.5 M583.2,91.2 583.8,95.4 586.4,100.6 589.0,105.8 590.0,111.0 596.2,111.6 M583.8,95.4 581.1,100.6 575.9,103.8 571.8,104.8 M599.9,88.6 607.7,85.0 612.9,84.5 614.5,90.2 612.9,92.8 M602.5,77.7 605.1,81.9 607.7,85.0 M612.9,84.5 617.1,79.8 624.4,76.1 628.5,73.5 M624.4,76.1 626.5,81.9 627.0,90.2 626.5,99.1 M628.5,73.5 631.7,66.2 M628.5,73.5 633.8,75.6 639.0,80.8 637.9,86.0 636.9,89.2 628.5,92.3 627.0,95.4 M636.9,89.2 640.5,95.4 643.1,98.5 647.3,95.9 652.0,88.1 650.4,82.9 646.2,79.8 639.0,80.8 M627.5,99.1 631.7,100.1 635.8,102.7 638.4,106.9 642.6,110.0 648.3,107.9 649.9,103.8 647.3,95.9 M643.1,98.5 635.8,102.7 M593.1,102.2 600.4,98.0 602.5,96.5 M593.1,102.2 586.4,100.6 M593.1,102.2 596.8,105.8 597.3,111.0 594.7,121.5 M597.3,111.0 602.5,110.0 606.7,111.0 M652.0,88.1 654.6,90.2 658.2,97.5 652.5,101.7 649.9,103.8 M652.0,88.1 657.7,85.0 665.0,81.9 671.2,79.3 680.0,81.4 M658.2,97.5 665.0,103.8 669.7,109.0 M669.7,109.0 661.9,116.2 657.7,116.8 M652.5,101.7 654.6,105.8 656.1,112.1 656.1,118.3 655.6,126.7 M646.2,111.0 646.8,120.4 649.4,124.6 653.5,126.7 659.8,125.6 663.4,122.5 662.9,118.3 659.8,116.8 657.7,116.8 M655.6,126.7 655.1,132.9 652.0,139.2 649.4,142.3 644.2,140.2 642.1,137.1 M652.0,139.2 659.8,137.1 662.9,132.9 668.1,130.8 M649.4,142.3 646.8,147.5 646.2,152.7 647.2,155.0 M644.2,69.4 648.3,67.8 653.5,71.5 658.2,74.1 654.6,80.8 651.5,79.3 646.2,73.5 644.2,69.4 M648.3,78.8 650.4,82.9 M631.7,66.2 634.8,67.3 636.9,70.4 640.0,73.5 643.1,77.2 644.2,79.3 646.2,79.8 M658.2,74.1 665.0,73.5 671.2,76.7 671.2,79.3 M583.2,91.2 581.7,88.1 M672.5,78.8 670.9,82.9 670.4,87.1 671.5,93.3 675.6,92.8 680.8,90.2 684.0,89.0 M660.0,85.0 666.2,82.4 672.0,79.3 M669.7,109.0 672.3,108.8 677.7,105.8 682.4,102.7 685.5,100.1 M671.5,109.0 673.5,113.1 677.7,118.3 681.9,121.5 684.5,121.5 M663.4,122.5 667.3,121.5 669.9,124.6 668.1,127.2 668.5,130.3 671.5,131.9 M681.4,121.5 678.8,124.6 674.6,128.8 671.5,131.9 M697.0,125.1 693.3,127.7 691.2,131.9 690.7,137.1 689.2,142.3 686.0,144.9 682.4,148.5 681.4,151.7 682.9,154.3 682.9,155.0 M700.1,122.5 703.8,125.1 707.9,128.8 711.0,131.9 708.4,135.0 706.4,140.2 703.8,143.3 699.1,146.5 699.6,154.3 699.6,155.0 M682.9,154.3 691.2,154.8 699.6,154.3 706.9,154.8 714.2,154.3 722.5,153.2 M711.0,131.9 714.2,132.9 718.3,133.4 723.5,135.0 728.8,137.1 736.0,138.1 M718.3,133.4 720.4,128.8 723.0,123.5 723.5,121.5 M736.0,138.1 739.2,137.6 745.4,139.2 750.6,142.3 752.7,143.9 754.8,145.4 760.0,149.1 765.2,152.7 767.3,153.8 M736.0,138.1 734.5,142.3 731.9,145.4 726.7,148.0 723.5,151.7 722.5,153.2 722.4,155.0 M731.9,145.4 736.0,147.5 742.3,148.0 746.5,151.1 749.1,153.2 750.6,148.5 752.7,143.9 M752.7,143.9 753.8,141.2 754.3,137.1 757.4,135.0 757.9,134.0 M758.4,134.5 760.0,141.2 765.2,146.5 772.5,152.7 M736.6,136.0 736.0,138.1 M749.1,153.2 746.5,154.8 742.3,154.3 741.7,155.0 M722.5,153.8 728.8,154.8 729.8,155.0 M545.0,159.9 550.4,160.4 551.0,155.0 M550.4,160.4 550.9,169.3 M545.0,169.1 546.2,168.8 552.0,169.3 566.0,167.7 579.1,166.7 M578.5,155.0 579.1,160.4 580.1,176.0 581.7,184.4 583.8,191.7 585.8,199.0 586.9,204.2 590.0,209.4 594.2,213.5 598.3,216.7 600.9,219.3 606.7,219.8 610.8,222.9 615.0,227.1 619.2,231.2 622.8,229.7 626.5,232.3 630.6,234.9 634.3,236.5 635.8,233.3 639.0,231.2 645.2,230.7 653.5,231.2 657.7,229.2 658.8,226.0 656.7,221.9 653.5,218.8 650.4,214.6 647.3,213.0 643.1,214.6 640.0,216.1 636.4,213.5 635.8,209.4 638.4,205.2 642.6,203.6 646.2,203.1 647.3,197.9 646.2,191.7 645.2,187.5 647.3,183.3 640.0,181.2 634.8,180.2 636.4,176.0 633.8,172.4 634.8,167.7 635.3,162.5 630.6,158.3 628.6,155.0 M553.5,170.3 557.7,175.0 562.4,180.2 564.0,185.4 565.5,191.7 567.1,195.8 569.7,200.0 M552.0,169.3 550.9,176.0 546.8,180.2 545.7,181.2 550.4,184.9 553.5,184.4 562.4,180.7 M545.0,181.6 545.7,181.8 M550.4,184.9 549.4,189.6 546.2,193.8 545.0,195.0 M546.2,193.8 549.4,199.0 549.9,206.2 548.9,209.9 545.0,210.3 M566.0,167.7 564.0,174.0 563.4,179.2 562.4,180.2 M570.2,168.2 567.1,180.2 M574.9,168.2 570.2,178.1 568.6,180.2 M563.4,179.7 568.6,180.2 574.4,180.2 579.1,176.0 M574.4,180.2 573.3,187.5 566.0,193.8 M573.3,187.5 576.5,188.0 579.1,192.2 583.8,191.7 M569.7,200.0 576.5,201.0 584.8,199.5 M569.7,200.0 564.0,200.0 562.4,203.1 557.2,204.7 554.6,202.1 552.5,203.1 553.0,206.8 549.9,206.2 M557.2,204.7 559.3,212.5 561.4,217.7 561.9,222.9 M569.7,200.0 570.2,206.2 572.3,213.5 573.3,220.8 575.9,225.0 581.7,229.2 584.8,232.3 585.8,235.4 583.2,240.6 583.1,242.0 M545.0,214.6 545.2,215.6 551.5,218.2 560.3,216.7 561.4,217.7 M545.0,217.8 548.3,218.8 553.5,221.9 556.1,224.0 555.1,226.0 546.2,225.0 545.0,224.3 M561.9,222.9 567.1,221.9 573.3,220.8 M545.0,230.9 546.8,232.3 552.5,235.4 558.8,238.5 565.0,241.7 566.3,242.0 M567.1,221.9 568.1,227.1 566.6,230.2 566.0,235.4 567.6,240.6 568.6,242.0 M584.8,228.6 591.0,227.1 596.2,225.0 594.2,220.8 596.2,219.8 600.9,219.3 M585.8,235.4 594.2,238.5 602.5,241.7 603.8,242.0 M609.5,242.0 610.3,235.4 619.2,232.3 M634.3,236.5 631.7,241.7 631.5,242.0 M631.7,241.7 632.4,242.0 M658.8,228.1 659.8,233.3 660.8,238.5 661.4,241.7 661.6,242.0 M658.8,228.1 665.0,226.0 671.2,227.1 672.3,227.6 M658.8,228.1 660.8,222.9 662.9,216.7 665.0,208.3 667.1,200.0 669.2,193.8 669.7,184.4 669.2,180.2 667.6,175.0 664.5,170.3 M647.3,197.9 651.5,196.9 657.7,198.4 667.1,201.0 672.3,202.1 677.5,205.2 680.0,207.3 M651.5,196.9 653.5,191.7 654.6,185.4 657.7,180.2 656.1,178.1 647.3,183.3 M657.7,180.2 662.9,181.2 669.7,184.4 M654.6,191.7 660.8,192.7 669.2,193.8 M656.1,178.1 659.8,175.0 664.5,170.3 M635.3,162.5 640.0,164.1 646.2,164.6 653.5,163.5 657.7,162.5 660.8,161.7 M649.4,160.0 653.0,160.4 657.7,162.5 660.8,165.6 M633.8,160.0 635.3,162.5 M546.8,232.3 547.1,242.0 M565.0,241.7 565.0,242.0 M700.1,155.0 700.1,155.2 700.6,169.3 709.0,170.3 711.0,176.0 710.5,184.4 711.0,188.5 710.0,193.8 M682.8,155.0 685.0,159.4 685.5,163.5 687.6,167.2 694.4,168.2 700.6,169.3 M660.0,162.0 670.4,159.9 680.8,158.9 685.0,159.4 M660.0,165.6 665.2,169.8 667.3,174.0 669.4,178.1 671.5,180.2 669.9,184.4 M671.5,180.2 673.5,176.0 675.1,170.8 675.6,166.1 670.4,165.6 665.2,169.8 M675.6,166.1 685.5,163.5 M687.6,167.2 687.1,176.0 687.6,185.9 690.2,193.2 688.1,199.0 686.6,205.2 685.5,211.5 M671.5,180.2 673.5,184.4 680.8,185.9 687.6,185.9 M669.9,184.4 672.5,189.6 674.6,193.8 669.2,194.0 M674.6,193.8 680.8,193.2 690.2,193.2 M674.6,193.8 677.2,199.0 679.3,203.1 677.7,206.2 M667.8,195.8 666.8,200.0 664.7,201.0 660.0,201.0 M679.3,203.1 680.8,208.3 684.5,212.0 685.5,211.5 M684.5,212.0 686.0,218.8 688.1,224.0 690.2,229.2 691.2,235.4 691.2,242.0 M677.7,206.2 675.6,210.4 673.0,216.7 671.5,224.0 673.0,229.2 671.5,232.3 670.4,236.5 M660.0,227.1 665.2,226.0 671.5,224.0 M673.0,229.2 680.8,227.6 690.2,229.2 M685.5,211.5 693.3,213.5 701.7,211.5 706.9,209.4 711.0,212.5 710.0,216.1 705.8,220.8 702.7,225.0 702.7,228.1 M692.3,215.1 696.5,219.8 702.7,225.0 M710.0,193.8 724.6,195.8 726.7,191.7 729.8,189.1 735.0,190.6 739.2,189.6 M724.6,195.8 728.8,200.0 722.5,205.2 718.3,208.3 714.2,213.5 711.0,212.5 M728.8,200.0 739.2,190.6 M706.9,209.4 705.8,204.2 707.4,199.0 710.0,193.8 M714.2,213.5 721.5,215.6 728.2,214.6 M714.2,213.5 715.2,220.8 718.3,226.0 722.5,232.3 724.6,236.5 726.7,240.6 726.7,242.0 M715.2,229.2 718.3,226.0 M702.7,228.1 701.7,236.5 700.6,241.7 700.6,242.0 M710.0,231.2 711.0,236.5 713.1,241.7 713.3,242.0 M700.6,241.7 702.6,242.0 M711.1,242.0 713.1,241.7 720.4,240.6 726.7,239.6 731.9,236.5 738.1,233.3 M670.4,236.5 666.2,237.5 662.1,239.6 660.0,240.6 M691.2,235.4 696.5,237.5 701.7,236.5 M676.7,232.3 679.8,233.3 681.9,236.5 682.4,241.7 681.2,242.0 M678.4,242.0 677.2,239.6 676.1,235.4 676.7,232.3 M680.8,227.6 680.3,232.3 M684.0,232.3 688.1,232.3 691.2,235.4 M722.2,155.0 721.5,158.3 718.3,161.5 715.2,164.6 716.2,168.2 718.3,170.8 722.5,176.0 726.7,182.3 728.8,183.3 M716.2,168.2 723.5,170.3 729.3,171.9 734.5,172.4 737.1,176.6 M735.0,155.7 731.9,163.5 729.3,171.9 M700.1,155.2 703.1,155.0 M730.6,155.0 735.0,155.7 739.2,156.2 M726.7,182.3 725.1,184.4 720.9,184.9 720.4,187.5 716.8,188.0 716.2,185.9 710.5,184.4 M728.8,183.3 732.9,182.3 738.1,181.2 M728.8,183.3 729.8,189.1 M703.2,183.3 703.2,186.5 700.1,187.0 699.6,190.6 M687.6,185.9 694.4,184.4 703.2,183.3 710.5,184.4 M690.2,193.2 695.4,191.7 699.6,190.6 709.0,194.3 M728.2,214.6 727.2,216.7 727.7,221.9 729.8,228.1 732.9,232.3 738.1,233.3 M728.2,214.6 729.8,208.3 730.8,204.2 732.9,205.2 738.1,200.0 M731.9,216.7 735.0,213.5 738.1,212.5 M731.9,216.7 732.4,220.8 735.0,222.9 738.1,222.9 M702.7,228.1 710.0,227.1 715.2,229.2 710.0,231.2 707.4,233.3 703.2,233.3 M565.1,242.0 565.5,250.4 561.9,252.5 555.6,248.3 549.4,246.2 547.3,243.1 547.1,242.0 M567.9,242.0 569.2,243.1 576.5,248.3 580.6,246.2 583.8,244.2 583.5,242.0 M576.5,248.3 574.4,253.5 574.9,258.2 575.9,267.1 574.4,274.4 573.9,281.7 572.3,289.0 570.2,292.6 M561.9,252.5 565.0,258.8 568.1,264.0 571.2,267.1 575.9,267.1 M561.9,252.5 559.8,256.7 562.9,259.8 560.8,264.0 559.3,267.6 556.7,269.2 M549.9,253.5 553.5,254.6 556.7,258.8 559.8,264.0 M547.3,260.8 550.4,256.7 549.9,253.5 546.2,246.2 545.0,245.0 M556.7,269.2 565.0,273.3 568.1,272.3 571.2,267.1 M565.0,273.3 568.1,281.7 570.2,292.6 M558.2,271.2 562.4,279.6 566.0,286.9 568.6,292.1 M547.8,260.8 551.5,266.0 555.6,270.2 558.2,275.4 561.9,281.7 559.8,283.2 M545.2,262.4 545.0,263.5 M545.0,268.7 547.3,270.2 550.4,274.4 545.2,278.5 545.0,278.6 M574.9,258.2 581.7,256.1 589.0,256.7 590.0,258.8 596.2,259.8 598.3,255.6 602.5,249.4 605.6,243.1 606.0,242.0 M596.2,259.8 593.1,262.9 592.1,268.6 590.0,271.2 586.9,274.4 M576.5,261.4 581.7,264.0 587.9,266.6 592.1,268.6 M575.9,271.2 581.7,272.3 586.9,274.4 592.1,272.3 594.2,275.4 595.2,279.6 593.1,283.8 591.0,285.8 583.8,281.7 578.5,279.6 574.9,279.1 M591.0,285.8 593.1,291.0 M573.9,281.7 581.7,283.8 589.0,286.9 592.1,290.0 M570.2,292.6 576.5,294.2 581.7,297.3 585.8,301.5 589.0,305.6 594.2,308.8 600.4,311.9 607.7,315.0 614.5,317.1 M572.3,294.2 579.6,298.3 583.8,302.5 587.9,307.7 594.2,311.9 602.5,315.0 611.9,318.1 M596.2,260.3 600.4,266.0 602.5,270.2 606.7,274.4 611.9,281.7 615.0,283.8 611.9,289.0 610.8,292.1 616.0,297.3 619.2,296.2 622.3,293.1 631.7,292.1 M602.5,249.4 606.7,253.5 612.9,252.5 619.2,251.5 623.3,253.5 628.5,252.5 M605.6,243.1 612.9,244.2 619.2,246.2 623.3,250.4 628.5,252.5 M628.5,252.5 629.6,246.2 631.7,242.1 631.8,242.0 M628.5,252.5 623.3,256.7 619.2,260.8 617.1,265.0 616.0,269.2 615.0,274.4 615.0,283.8 M616.0,269.2 622.3,271.2 627.5,274.4 635.8,274.4 641.0,275.9 M628.5,252.5 633.8,253.5 637.9,255.6 644.2,256.7 M637.9,255.6 636.9,260.8 633.8,265.0 634.8,270.2 635.8,274.4 M616.0,274.4 617.1,280.6 622.3,282.7 624.4,285.8 632.7,286.9 633.8,282.7 637.9,278.5 641.0,275.9 M632.7,286.9 631.7,292.1 630.6,298.3 629.6,301.5 M612.9,302.5 616.0,299.4 619.2,296.2 M614.5,302.5 621.2,302.5 629.6,301.5 633.8,304.6 640.0,307.7 M614.5,305.6 622.3,306.7 629.6,306.7 632.7,309.8 631.7,312.9 628.5,316.0 623.3,318.1 614.5,317.1 M614.5,302.5 614.5,317.1 611.9,321.2 M632.7,309.8 634.8,312.9 637.9,318.1 641.6,320.2 M631.7,292.1 637.9,292.1 M636.9,293.1 637.4,300.4 M644.2,256.7 647.3,250.4 650.4,248.3 659.8,246.2 665.0,246.2 M637.1,242.0 639.0,243.1 644.2,245.2 647.3,250.4 M644.2,256.7 650.4,258.8 654.6,260.8 658.8,259.8 659.8,254.6 665.0,253.5 666.6,254.6 669.2,255.6 670.0,254.8 M658.8,259.8 654.6,264.0 M669.2,255.6 665.0,260.8 M590.0,293.6 591.0,297.3 594.2,300.4 596.2,305.6 600.4,306.1 604.6,308.8 606.7,307.7 610.8,309.3 614.5,309.8 M593.1,291.0 598.3,295.2 604.6,299.4 610.8,302.5 614.0,304.6 M670.0,245.4 674.6,245.2 691.2,244.2 697.0,246.2 699.1,247.3 M670.0,253.7 670.4,253.5 673.5,253.5 674.1,255.6 676.7,258.8 679.3,258.2 682.4,255.6 689.2,248.9 691.2,244.2 M682.4,255.6 682.4,258.2 688.1,262.4 M690.2,263.4 694.9,257.7 697.5,256.7 697.5,253.5 697.0,246.2 M699.1,247.3 701.7,245.2 713.1,243.1 714.2,247.8 714.7,253.5 708.4,255.6 705.3,252.5 701.1,248.3 699.1,247.3 M713.1,243.1 713.5,242.0 M714.7,253.5 716.2,255.1 728.2,252.5 738.1,250.9 M708.4,255.6 709.0,265.0 712.1,270.2 716.2,273.3 717.8,274.9 723.0,274.9 725.1,271.2 725.6,267.6 728.2,266.6 728.8,260.8 728.2,252.5 M725.6,267.6 726.7,270.2 733.4,270.2 738.1,269.2 M733.4,270.2 735.0,275.4 736.6,279.6 736.6,284.8 M717.8,274.9 720.4,279.6 720.9,285.8 720.4,288.4 M697.5,253.5 699.6,260.8 700.6,264.5 700.1,268.1 694.4,270.2 M695.4,274.4 699.6,278.0 696.5,283.8 M705.3,252.5 706.9,255.6 704.8,257.7 702.7,261.9 700.6,264.5 M709.0,265.0 705.8,267.1 700.1,268.1 M694.4,270.2 701.7,271.2 709.0,270.2 712.1,270.2 M699.6,278.0 703.8,275.4 710.0,273.3 716.2,273.3 M694.4,290.0 708.4,289.0 720.4,287.9 738.1,285.8 M708.4,289.0 709.0,294.2 711.0,298.3 714.7,302.5 716.2,301.5 M697.5,299.4 701.7,303.5 704.3,307.7 704.8,310.8 M695.4,315.0 699.6,317.1 M673.5,260.8 679.3,258.2 M726.9,242.0 728.2,252.5 M497.0,197.5 496.7,197.6 491.5,200.7 486.2,206.5 480.5,212.7 471.7,222.6 463.9,230.9 459.2,232.5 455.0,234.6 M491.5,201.8 496.1,205.4 499.8,209.1 505.0,212.2 509.2,212.2 515.4,212.7 518.0,214.8 521.7,214.8 526.9,220.0 532.6,225.2 M481.6,213.8 487.3,217.4 490.9,222.3 495.1,228.9 495.6,231.5 492.5,235.1 489.4,237.7 478.4,237.7 472.2,237.2 470.6,235.1 467.5,234.1 463.9,230.9 M505.0,212.2 499.8,217.4 496.7,217.9 490.9,222.3 485.7,225.2 480.0,228.3 477.4,232.0 478.4,237.7 M499.8,217.4 502.4,221.0 504.0,226.2 505.0,227.3 506.0,231.5 507.1,236.7 509.7,244.0 509.7,252.3 M504.0,226.2 496.1,230.9 495.1,228.9 M518.8,214.8 518.8,226.2 511.2,225.4 505.0,226.8 M511.2,225.4 512.8,230.4 514.9,235.6 516.5,250.2 M518.8,226.2 529.0,229.9 531.6,226.2 532.6,225.2 532.6,221.0 530.5,214.3 531.6,210.6 536.2,205.4 540.4,200.2 543.1,197.5 M529.0,229.9 527.4,234.1 533.1,239.8 541.5,247.1 542.0,252.3 M472.2,237.2 469.6,242.9 458.1,244.0 457.1,247.1 479.0,247.1 494.6,246.0 500.8,245.0 509.2,242.4 M495.6,231.5 495.1,236.7 494.6,246.0 M479.0,247.1 479.5,253.3 479.0,261.7 478.4,267.9 480.0,271.0 M455.0,253.3 465.4,252.8 479.5,253.3 492.5,254.9 499.8,254.4 508.1,252.3 516.5,250.2 525.8,248.1 532.1,248.6 538.3,251.8 542.5,252.8 545.0,253.6 M456.0,253.3 456.6,270.0 M460.2,269.5 470.6,263.8 479.0,263.2 486.2,264.8 496.7,264.3 508.1,263.8 517.5,266.9 527.9,267.9 M496.7,264.3 496.7,272.1 M508.1,252.3 508.6,263.8 M532.1,248.6 529.2,263.8 528.4,267.9 M517.5,266.9 518.5,275.2 519.6,281.5 M528.4,267.9 533.1,271.0 537.3,277.3 544.6,278.3 545.0,278.0 M542.0,225.7 545.0,229.1 M532.6,225.2 537.3,226.2 542.0,225.7 543.5,225.2 M541.5,247.1 543.5,242.9 545.0,241.5 M545.0,240.5 538.3,236.7 535.2,235.1 533.6,237.7 537.3,241.9 541.5,245.0 M535.2,235.1 538.3,230.4 542.0,225.7 M540.4,217.4 543.5,216.9 545.0,217.6 M545.0,225.2 543.5,225.2 541.5,221.0 540.4,217.4 M532.6,221.0 533.1,219.5 538.3,219.5 540.4,217.4 M538.3,219.5 539.4,216.4 544.6,216.9 M545.0,213.1 544.6,213.8 545.0,215.0 M538.3,203.9 543.5,206.5 545.0,208.4 M476.2,112.5 477.3,117.2 479.4,121.9 482.5,125.0 482.0,130.2 485.1,133.3 487.7,137.0 491.9,140.1 500.7,139.1 503.3,137.0 505.4,138.0 507.0,141.1 520.5,141.1 534.6,127.6 539.3,122.4 538.8,112.5 535.6,106.2 532.0,105.2 530.4,102.1 532.0,100.0 M534.6,127.6 536.1,134.4 537.2,141.7 539.3,146.4 541.9,148.4 M534.6,127.6 537.7,128.1 540.3,134.9 544.5,134.4 545.0,132.3 M541.9,148.4 545.0,148.4 M541.9,148.4 539.8,153.1 538.8,158.9 545.0,159.9 545.0,159.9 M538.8,159.4 536.1,164.6 535.6,170.8 537.2,171.9 542.9,168.8 545.0,168.5 M535.6,170.8 532.0,176.0 526.2,182.3 520.0,188.5 513.8,192.2 505.4,194.3 497.1,196.9 496.0,197.5 M535.6,170.8 537.7,174.0 538.2,179.2 534.6,182.3 535.6,186.5 537.2,188.5 542.4,191.7 545.0,193.4 M526.2,182.3 529.4,185.4 533.0,189.1 537.2,188.5 M538.2,179.2 545.0,182.3 545.0,182.3 M545.0,182.3 545.0,182.3 M545.0,194.3 542.1,197.5 M405.0,217.2 410.2,220.3 415.4,224.5 420.6,226.6 422.2,231.2 426.9,235.9 430.0,240.1 437.3,243.2 442.0,246.9 439.4,251.0 437.3,254.2 M404.5,222.4 415.4,233.9 425.8,244.8 437.3,254.2 M415.4,233.9 405.5,244.3 396.7,252.6 397.2,255.7 400.8,259.4 402.9,263.5 M405.5,244.3 416.5,254.2 427.9,263.5 435.2,271.9 441.5,271.9 448.8,270.8 455.0,270.2 M427.9,263.5 433.1,258.3 437.3,254.2 M437.3,254.2 441.5,248.4 446.7,244.8 451.9,243.8 453.4,236.5 455.0,234.6 M455.0,243.5 451.9,243.8 M437.3,254.2 448.8,254.2 455.0,253.4 M397.2,255.7 393.0,264.6 388.3,274.0 384.7,283.3 383.6,288.5 384.7,292.7 389.4,295.8 396.7,297.4 401.9,296.9 403.4,293.2 414.9,293.8 M386.2,272.9 388.9,273.4 M439.4,272.9 441.5,281.2 444.6,286.5 450.3,289.6 M647.1,267.4 650.4,266.2 653.3,266.6 654.6,269.1 654.2,271.6 652.1,273.2 647.1,272.4 646.2,269.9 647.1,267.4 M640.0,276.2 642.5,275.3 646.2,274.5 647.1,272.4 M641.2,276.2 641.2,280.3 643.8,282.8 647.5,283.7 650.0,283.7 M650.0,277.8 650.0,283.7 650.8,287.0 650.8,292.0 M646.2,274.5 650.8,277.8 654.2,280.8 657.5,282.0 660.0,285.3 663.3,287.0 666.7,290.8 671.2,293.7 674.2,295.8 676.7,299.5 677.5,302.0 M641.2,278.7 644.2,279.1 647.1,276.6 M654.2,271.6 656.7,270.3 658.3,268.2 659.2,265.8 657.9,262.0 M659.2,265.8 662.5,266.6 665.0,268.2 668.3,268.7 M668.3,268.7 670.0,266.2 671.7,262.8 672.9,262.0 M654.6,269.1 656.7,270.3 M663.3,268.2 663.3,274.5 663.8,278.7 666.2,280.3 667.5,282.0 M655.8,275.8 658.3,276.6 660.4,277.4 660.8,279.9 662.5,280.3 663.3,278.7 M658.3,268.2 661.7,268.2 663.3,270.3 M657.9,277.8 657.9,280.3 M668.3,268.7 670.8,271.2 671.7,273.7 674.2,274.1 674.6,277.8 674.6,283.7 M665.6,272.4 669.2,270.3 670.8,273.2 669.8,276.2 668.8,280.3 666.7,280.3 665.4,276.2 665.6,272.4 M671.7,273.7 672.9,277.0 674.6,277.8 M670.8,277.8 673.3,277.8 673.3,280.3 670.8,280.3 670.8,277.8 M674.6,274.1 677.5,271.2 680.0,267.8 681.7,266.6 682.9,267.4 680.8,269.9 678.3,272.8 675.8,275.8 M680.0,264.9 683.3,263.2 683.8,262.0 M677.5,271.2 678.8,272.0 M679.2,269.5 680.4,270.3 M682.5,269.9 685.8,272.4 688.8,275.8 691.7,280.3 689.2,282.0 687.1,282.8 M681.7,274.1 685.0,272.4 687.1,274.1 683.3,277.8 681.7,274.1 M676.7,279.5 681.2,274.5 M678.8,281.6 683.3,276.6 M680.8,283.7 685.4,278.7 M676.7,279.5 678.8,281.6 680.8,283.7 682.5,285.3 M682.5,285.3 687.1,282.8 688.8,282.0 M683.3,287.0 685.4,284.5 M674.6,283.7 676.7,285.3 677.5,287.4 675.4,290.8 674.2,291.2 673.8,287.8 672.9,285.8 674.6,283.7 M666.7,282.8 667.5,286.2 670.0,285.3 672.5,283.2 674.6,283.7 M666.7,282.8 666.7,287.0 669.2,287.0 672.5,286.6 673.8,287.8 M660.0,285.3 662.5,284.1 665.0,283.2 666.7,282.8 M650.8,284.5 657.5,284.5 658.3,286.2 660.0,285.3 M650.8,287.8 653.8,287.4 657.5,288.2 658.8,287.8 663.3,287.0 M640.0,292.0 650.8,292.0 654.2,292.0 656.7,292.8 660.0,292.4 661.7,293.2 663.3,292.0 665.0,290.8 666.7,290.8 M654.2,287.8 654.2,292.0 655.8,295.3 656.7,298.2 656.7,302.0 M665.0,290.8 665.8,294.5 665.8,296.6 667.5,299.5 669.2,299.9 671.7,296.6 674.2,295.8 M656.7,298.2 659.2,297.8 661.7,296.2 664.2,296.6 665.8,296.6 M644.2,296.2 647.1,298.2 650.4,298.7 653.3,298.7 655.8,298.7 M640.0,293.2 643.3,293.2 645.4,294.9 644.2,296.2 643.3,299.5 643.3,302.0 M667.5,299.5 668.3,302.0 M676.7,299.5 680.0,297.8 681.7,296.2 681.7,292.8 684.2,288.7 687.1,284.5 688.8,282.8 M681.7,296.2 684.2,297.4 690.0,297.4 696.0,297.4 M694.2,291.2 694.2,297.4 M688.8,282.8 690.0,285.3 690.8,288.7 692.5,289.9 696.0,289.9 M687.5,262.0 688.3,264.9 691.2,268.2 693.8,271.2 696.0,271.6 M693.8,271.2 694.2,273.7 696.0,276.2 M689.2,274.5 692.5,274.1 694.2,273.7 M640.0,304.2 642.5,305.9 645.4,308.0 648.3,308.8 653.8,310.5 655.8,313.0 M640.0,308.0 644.2,310.1 648.3,314.7 652.5,317.4 665.0,317.4 670.0,317.6 673.3,318.8 677.5,322.2 678.3,323.0 M648.3,314.7 644.2,319.7 644.2,321.3 M642.5,319.7 645.4,323.8 M649.6,308.8 647.5,305.5 648.8,302.2 649.6,300.5 649.2,298.0 M643.3,298.0 643.8,302.2 642.5,305.9 M656.2,298.0 656.7,303.4 661.7,308.0 663.3,306.8 666.7,301.8 669.2,300.5 672.5,299.7 M661.7,308.0 663.3,310.5 664.6,314.2 665.0,317.4 M664.6,314.2 667.5,313.8 670.0,310.5 669.2,306.8 668.8,306.3 M670.0,310.5 672.5,313.0 675.4,313.8 675.8,310.5 674.6,307.2 673.3,304.7 670.0,302.2 669.2,300.5 M675.4,313.8 670.8,316.3 670.0,317.6 M675.8,310.5 677.5,307.2 677.5,303.8 676.2,300.5 675.8,298.0 M677.5,303.8 680.0,305.1 681.7,304.7 683.8,302.2 685.8,298.0 M681.7,304.7 682.9,307.6 685.8,310.5 683.3,314.7 680.0,319.7 678.3,323.0 M685.8,310.5 690.0,306.3 690.8,302.2 690.4,298.0 M685.8,310.5 690.0,313.4 696.0,315.9 M649.6,308.8 653.8,306.3 657.5,305.5 661.7,308.0 655.8,313.0 653.3,310.9 649.6,308.8 M672.5,313.0 673.3,310.5 671.7,308.8 670.0,310.5 M665.0,246.2 670.0,246.0 M665.0,246.2 666.6,254.6 M659.8,246.2 660.8,242.1 660.8,242.0 M658.3,268.2 658.3,272.4 655.8,274.5 655.8,275.8 M661.7,268.2 662.5,272.4 663.3,274.5 M658.3,272.4 660.8,274.5 660.8,277.4 M665.0,268.2 665.8,271.6 M675.8,275.8 676.7,279.5 M683.3,277.8 685.8,280.3 688.8,282.0 M669.2,280.3 669.2,282.8 667.5,282.0 M666.7,280.3 666.7,282.8 M668.8,280.3 670.8,280.3 M673.3,280.3 674.6,281.2 M657.5,282.0 657.5,284.5 M653.8,287.4 654.2,284.5 M658.8,287.8 660.0,292.4 M661.7,293.2 661.7,296.2 M663.3,292.0 664.2,296.6 M669.2,287.0 670.0,291.2 671.2,293.7 M672.5,286.6 672.5,291.2 674.2,291.2 M647.1,276.6 650.0,277.8 M643.8,282.8 644.2,287.0 640.0,288.7 M644.2,287.0 650.8,287.0 M647.1,298.2 646.7,302.0 M650.4,298.7 650.4,302.0 M653.3,298.7 653.8,302.0 M659.2,297.8 659.6,302.0 M661.7,296.2 662.5,299.5 665.0,302.0 M665.8,296.6 666.7,299.5 M669.2,299.9 670.0,302.0 M671.7,296.6 673.3,299.5 673.3,302.0 M680.0,297.8 680.0,302.0 M684.2,297.4 683.8,302.0 M690.0,297.4 689.6,302.0 M648.3,272.4 648.3,274.5 M652.1,273.2 652.5,275.8 650.8,277.8 M642.5,275.3 642.5,278.7 M644.2,279.1 645.4,281.6 647.5,283.7 M652.5,280.8 652.5,284.5 M663.3,280.3 663.3,283.7 M665.0,283.2 665.0,287.0 M670.0,285.3 670.8,287.0 M676.7,285.3 678.8,287.0 680.8,288.7 M678.8,281.6 677.5,283.7 676.7,285.3 M685.4,278.7 687.1,280.3 M681.2,274.5 680.0,272.8 M685.0,272.4 685.8,270.3 M687.1,274.1 689.2,274.5 M640.0,300.5 643.3,301.3 M643.8,302.2 648.8,302.2 M649.6,300.5 656.2,300.5 M652.5,298.0 652.5,300.5 M656.7,303.4 653.8,306.3 M648.8,302.2 652.5,303.4 656.7,303.4 M663.3,298.0 663.3,302.2 666.7,301.8 M660.0,298.0 660.0,303.0 M666.7,301.8 667.5,298.0 M672.5,299.7 673.3,298.0 M669.2,300.5 668.8,298.0 M667.5,313.8 668.3,317.4 M672.5,313.0 671.7,316.3 M680.0,305.1 679.2,308.8 677.5,310.5 675.8,310.5 M682.9,307.6 679.2,308.8 M645.4,308.0 644.2,310.1 M640.0,314.7 644.2,315.5 648.3,314.7 M640.0,318.8 642.5,319.7 M645.4,298.0 645.8,300.5 647.5,305.5 M658.3,304.2 659.6,300.5 M665.8,304.7 669.2,306.8 M666.7,309.7 664.6,314.2 M653.8,310.5 652.5,314.7 M657.5,310.5 660.0,311.8 663.3,310.5 M593.2,261.7 594.3,265.8 600.0,272.1 594.3,272.1 591.7,269.0 M594.3,272.1 595.3,276.2 592.7,284.6 M600.0,265.8 596.9,262.7 M615.6,269.0 622.9,271.0 630.2,273.1 640.0,272.1 M615.6,269.0 617.7,275.2 618.8,282.5 625.0,286.7 631.2,286.7 M618.8,282.5 622.9,278.3 630.2,282.5 633.3,282.5 M610.4,274.2 614.6,272.1 615.6,269.0 612.5,265.8 M617.7,254.4 614.6,259.6 612.5,265.8 M633.3,282.5 632.3,290.8 640.0,291.9 M604.2,295.0 603.1,297.1 604.2,300.2 M591.7,286.7 600.0,290.8 608.3,292.9 M566.7,241.9 572.9,245.0 579.2,248.1 M550.0,254.4 554.2,255.4 558.3,261.7 561.5,259.6 M562.5,252.3 566.7,254.4 570.8,261.7 575.0,265.8 M558.3,261.7 556.8,269.0 M566.7,274.2 568.8,267.9 570.8,261.7" stroke-width="1.0" clip-path="url(#landclip)"/>
<path d="M641.9,329.8 642.5,335.9 M498.3,272.0 498.3,292.5" stroke-width="1.8"/>
<path d="M464.7,111.3h0.1 M492.5,388.7h0.1 M530.8,422.8h0.1 M536.7,460.8h0.1 M537.5,455.0h0.1 M594.7,389.7h0.1 M950.0,109.7h0.1 M975.0,253.8h0.1 M492.5,388.7h0.1 M417.5,359.2h0.1" stroke-width="1.6" stroke-linecap="round"/>
</g>
</defs>
<rect width="1344" height="960" fill="#fff"/>
<rect x="350.2" y="19.0" width="642.8" height="37.7" rx="4" ry="4" fill="#CCCCCC" stroke="#000" stroke-width="1.9"/>
<text x="671.5" y="49.3" font-size="29.3" text-anchor="middle">YOUNG</text>
<g transform="translate(0,0)"><use href="#basefill"/><g clip-path="url(#landclip)"><path d="M496.7,217.9 499.8,217.4 502.4,221.0 504.0,226.2 496.1,230.9 495.1,228.9 490.9,222.6Z M505.0,227.3 511.2,225.4 512.8,230.4 514.9,235.6 516.5,250.2 509.7,252.3 509.7,244.0 507.1,236.7 506.0,231.5Z M664.8,246.8 678.3,245.7 691.9,244.2 689.8,248.9 682.5,255.6 679.9,258.2 676.8,258.8 674.2,255.6 673.6,253.5 670.5,253.5 669.0,255.6 666.9,254.6Z M691.9,244.2 697.1,246.2 697.6,253.5 697.6,256.7 695.0,257.7 689.8,263.4 687.7,262.4 682.5,258.2 682.5,255.6 689.8,248.9Z M708.5,256.7 727.8,253.5 728.9,260.8 728.3,266.6 725.7,267.6 725.2,271.2 723.1,274.9 717.9,274.9 711.7,270.7 709.1,265.0Z M728.3,253.5 738.2,251.5 741.9,251.5 741.9,269.2 733.5,270.2 726.8,270.2 725.7,267.6 728.3,266.6 728.9,260.8Z M572.3,104.8 575.9,103.8 581.1,100.6 583.8,95.9 586.4,100.6 589.0,105.8 590.0,111.0 584.8,113.6 575.4,114.2 572.3,115.7 571.8,109.0Z M572.3,115.7 575.4,114.2 584.8,113.6 589.0,111.6 596.2,111.6 594.7,121.5 589.0,122.0 581.7,123.5 575.4,126.7 574.4,122.5Z M593.1,102.2 600.4,98.0 602.5,96.5 606.1,102.7 606.7,111.0 602.5,110.0 597.3,111.0 596.8,105.8Z M597.3,111.0 602.5,110.0 606.7,111.0 616.6,114.2 611.9,119.9 606.7,126.7 600.4,124.6 594.7,122.0Z M624.4,76.1 628.5,73.5 633.8,75.6 639.0,80.8 637.9,86.0 636.9,89.2 628.5,92.3 627.0,90.2 626.5,81.9Z M628.5,92.3 636.9,89.2 640.5,95.4 635.8,102.7 631.7,100.1 627.5,99.1 627.0,95.4Z M652.5,101.7 658.2,97.5 665.0,103.8 669.7,109.0 661.9,116.2 657.7,116.8 656.1,112.1 654.6,105.8Z M646.2,111.0 648.3,107.9 649.9,103.8 652.5,101.7 654.6,105.8 656.1,112.1 656.1,118.3 655.6,126.7 653.5,126.7 649.4,124.6 646.8,120.4Z M655.6,126.7 659.8,125.6 663.4,122.5 667.1,121.5 669.7,124.6 668.1,130.8 662.9,132.9 659.8,137.1 652.0,139.2 655.1,132.9Z M540.0,150.6 546.2,149.1 550.4,150.6 550.9,160.0 540.0,160.0Z M750.6,148.5 752.7,143.9 754.8,145.4 760.0,149.1 765.2,152.7 767.3,153.8 749.1,153.8Z M722.5,153.8 728.8,154.8 734.0,155.8 734.0,160.0 722.0,160.0Z M540.0,150.0 551.5,150.0 550.4,160.4 540.0,159.4Z M540.0,160.4 550.4,160.4 550.9,169.3 546.2,168.8 540.0,170.3Z M566.0,167.7 579.1,166.7 579.1,176.0 574.4,180.2 568.6,180.2 563.4,179.7 564.0,174.0Z M563.4,179.7 568.6,180.2 574.4,180.2 573.3,187.5 566.0,193.8 565.5,191.7 564.0,185.4Z M540.0,181.2 545.7,181.8 550.4,184.9 549.4,189.6 546.2,193.8 543.1,193.8 540.0,192.7Z M540.0,216.7 543.1,217.2 548.3,218.8 553.5,221.9 556.1,224.0 555.1,226.0 546.2,225.0 542.6,222.9 540.0,219.8Z M635.8,209.4 638.4,205.2 642.6,203.6 646.2,203.1 647.3,197.9 651.5,196.9 657.7,198.4 667.1,201.0 665.0,208.3 662.9,216.7 660.8,222.9 658.8,227.1 656.7,221.9 653.5,218.8 650.4,214.6 647.3,213.0 643.1,214.6 640.0,216.1 636.4,213.5Z M667.1,201.0 672.3,202.1 677.5,205.2 674.4,210.4 672.8,216.7 672.3,222.9 671.8,227.1 665.0,226.0 659.8,227.6 660.8,222.9 662.9,216.7 665.0,208.3Z M722.5,153.6 735.0,155.7 731.9,163.5 729.3,171.9 723.5,170.3 718.3,168.2 716.2,168.2 715.2,164.6 718.3,161.5 721.5,158.3Z M709.0,170.3 716.2,168.2 718.3,170.8 722.5,176.0 726.7,182.3 725.1,184.4 720.9,184.9 720.4,187.5 716.8,188.0 716.2,185.9 710.5,184.4 711.0,176.0Z M710.5,184.4 716.2,185.9 716.8,188.0 720.4,187.5 720.9,184.9 725.1,184.4 728.8,183.3 729.8,189.1 726.7,191.7 724.6,195.8 710.0,193.8 711.0,188.5Z M690.2,193.2 695.4,191.7 699.6,190.6 709.0,194.3 707.4,199.0 705.8,204.2 706.9,209.4 701.7,211.5 693.3,213.5 685.5,211.5 686.6,205.2 688.1,199.0Z M724.6,202.1 728.8,200.0 730.8,204.2 729.8,208.3 728.2,214.6 721.5,215.6 714.2,213.5 718.3,208.3Z M731.9,197.4 742.3,188.5 742.3,200.0 738.1,200.0 732.9,205.2 730.8,204.2 730.3,200.0Z M665.2,246.4 680.8,244.8 694.4,244.3 698.5,245.8 695.4,250.0 665.2,250.0Z M665.0,246.2 680.0,245.7 680.0,258.2 677.5,255.6 674.4,253.5 671.2,253.5 669.2,255.6 666.6,254.6Z M540.4,217.4 543.5,216.9 551.9,221.0 556.0,223.1 555.5,225.7 550.8,225.2 543.5,225.2 541.5,221.0Z M541.9,148.4 547.1,148.4 550.7,150.0 550.2,154.2 550.2,160.2 545.0,159.9 538.8,158.9 539.8,153.1Z M538.8,159.4 545.0,159.9 550.7,160.4 551.8,168.8 546.6,168.2 542.9,168.8 537.2,171.9 535.6,170.8 536.1,164.6Z M535.6,170.8 537.7,174.0 538.2,179.2 534.6,182.3 535.6,186.5 537.2,188.5 533.0,189.1 529.4,185.4 526.2,182.3 532.0,176.0Z M538.2,179.2 545.0,182.3 551.8,185.4 550.2,190.6 545.5,193.8 542.4,191.7 537.2,188.5 535.6,186.5 534.6,182.3Z" fill="#CBD8E0"/>
<path d="M480.5,212.7 481.6,213.8 487.3,217.4 490.9,222.3 485.7,225.2 480.0,228.3 477.4,232.0 478.4,237.7 472.2,237.2 470.6,235.1 467.5,234.1 463.9,230.9 471.7,222.6Z M490.9,222.6 495.1,228.9 495.6,231.5 492.5,235.1 489.4,237.7 478.4,237.7 477.4,232.0 480.0,228.3 485.7,225.2Z M499.8,217.4 505.0,212.2 509.2,212.2 515.4,212.7 518.0,214.8 518.8,226.2 511.2,225.2 505.0,226.8 504.0,226.2 502.4,221.0Z M699.6,154.3 706.9,154.8 714.2,154.3 722.5,153.2 722.0,160.0 699.6,160.0Z M722.5,153.2 723.5,151.7 726.7,148.0 731.9,145.4 736.0,147.5 742.3,148.0 746.5,151.1 749.1,153.2 746.5,154.8 742.3,154.3 740.2,156.9 738.1,160.0 734.0,160.0 734.0,155.8 728.8,154.8 722.5,153.8Z M669.7,109.0 673.5,113.1 677.7,118.3 681.4,121.5 678.8,124.6 674.6,128.8 671.5,131.9 668.5,130.3 668.1,127.2 669.9,124.6 667.3,121.5 663.4,122.5 662.9,118.3 661.9,116.2Z M700.1,155.2 722.5,153.6 721.5,158.3 718.3,161.5 715.2,164.6 716.2,168.2 709.0,170.3 700.6,169.3Z M722.5,147.9 743.3,147.9 743.3,156.2 735.0,155.7 722.5,153.6Z M735.0,155.7 743.3,156.2 743.3,177.1 737.1,176.6 734.5,172.4 729.3,171.9 731.9,163.5Z" fill="#A2C3D7"/>
<path d="M602.5,96.5 612.9,92.8 620.2,96.5 626.5,99.1 622.3,105.8 616.6,114.2 606.7,111.0 606.1,102.7Z" fill="#7095BA"/></g><use href="#lines"/></g>
<rect x="350.2" y="56.85" width="642.8" height="413.0" rx="4" ry="4" fill="none" stroke="#000" stroke-width="1.9"/>
<rect x="739.3" y="155.3" width="223.6" height="285.1" rx="4.5" ry="4.5" fill="#fff" stroke="#000" stroke-width="1.9"/>
<text x="749.5" y="192.6" font-size="29.45">YOUNG</text>
<rect x="750.4" y="208.70" width="31.6" height="32" rx="4" ry="4" fill="#EFF3FF"/>
<text x="788.8" y="233.70" font-size="21.7">0 to 7,390</text>
<rect x="750.4" y="246.35" width="31.6" height="32" rx="4" ry="4" fill="#BDD7E7"/>
<text x="788.8" y="271.35" font-size="21.7">7,390 to 14,780</text>
<rect x="750.4" y="284.00" width="31.6" height="32" rx="4" ry="4" fill="#6BAED6"/>
<text x="788.8" y="309.00" font-size="21.7">14,780 to 22,170</text>
<rect x="750.4" y="321.65" width="31.6" height="32" rx="4" ry="4" fill="#3182BD"/>
<text x="788.8" y="346.65" font-size="21.7">22,170 to 29,560</text>
<rect x="750.4" y="359.30" width="31.6" height="32" rx="4" ry="4" fill="#08519C"/>
<text x="788.8" y="384.30" font-size="21.7">29,560 to 36,950</text>
<rect x="750.4" y="396.95" width="31.6" height="32" rx="4" ry="4" fill="#ADADAD"/>
<text x="788.8" y="421.95" font-size="21.7">Missing</text>
<rect x="350.2" y="489.0" width="642.8" height="37.7" rx="4" ry="4" fill="#CCCCCC" stroke="#000" stroke-width="1.9"/>
<text x="671.5" y="519.3" font-size="29.3" text-anchor="middle">AGED</text>
<g transform="translate(0,470.0)"><use href="#basefill"/><g clip-path="url(#landclip)"><path d="M490.9,222.6 495.1,228.9 495.6,231.5 492.5,235.1 489.4,237.7 478.4,237.7 477.4,232.0 480.0,228.3 485.7,225.2Z M505.0,227.3 511.2,225.4 512.8,230.4 514.9,235.6 516.5,250.2 509.7,252.3 509.7,244.0 507.1,236.7 506.0,231.5Z M664.8,246.8 678.3,245.7 691.9,244.2 689.8,248.9 682.5,255.6 679.9,258.2 676.8,258.8 674.2,255.6 673.6,253.5 670.5,253.5 669.0,255.6 666.9,254.6Z M691.9,244.2 697.1,246.2 697.6,253.5 697.6,256.7 695.0,257.7 689.8,263.4 687.7,262.4 682.5,258.2 682.5,255.6 689.8,248.9Z M708.5,256.7 727.8,253.5 728.9,260.8 728.3,266.6 725.7,267.6 725.2,271.2 723.1,274.9 717.9,274.9 711.7,270.7 709.1,265.0Z M728.3,253.5 738.2,251.5 741.9,251.5 741.9,269.2 733.5,270.2 726.8,270.2 725.7,267.6 728.3,266.6 728.9,260.8Z M572.3,104.8 575.9,103.8 581.1,100.6 583.8,95.9 586.4,100.6 589.0,105.8 590.0,111.0 584.8,113.6 575.4,114.2 572.3,115.7 571.8,109.0Z M652.5,101.7 658.2,97.5 665.0,103.8 669.7,109.0 661.9,116.2 657.7,116.8 656.1,112.1 654.6,105.8Z M655.6,126.7 659.8,125.6 663.4,122.5 667.1,121.5 669.7,124.6 668.1,130.8 662.9,132.9 659.8,137.1 652.0,139.2 655.1,132.9Z M699.6,154.3 706.9,154.8 714.2,154.3 722.5,153.2 722.0,160.0 699.6,160.0Z M669.7,109.0 673.5,113.1 677.7,118.3 681.4,121.5 678.8,124.6 674.6,128.8 671.5,131.9 668.5,130.3 668.1,127.2 669.9,124.6 667.3,121.5 663.4,122.5 662.9,118.3 661.9,116.2Z M722.5,153.8 728.8,154.8 734.0,155.8 734.0,160.0 722.0,160.0Z M563.4,179.7 568.6,180.2 574.4,180.2 573.3,187.5 566.0,193.8 565.5,191.7 564.0,185.4Z M540.0,216.7 543.1,217.2 548.3,218.8 553.5,221.9 556.1,224.0 555.1,226.0 546.2,225.0 542.6,222.9 540.0,219.8Z M635.8,209.4 638.4,205.2 642.6,203.6 646.2,203.1 647.3,197.9 651.5,196.9 657.7,198.4 667.1,201.0 665.0,208.3 662.9,216.7 660.8,222.9 658.8,227.1 656.7,221.9 653.5,218.8 650.4,214.6 647.3,213.0 643.1,214.6 640.0,216.1 636.4,213.5Z M667.1,201.0 672.3,202.1 677.5,205.2 674.4,210.4 672.8,216.7 672.3,222.9 671.8,227.1 665.0,226.0 659.8,227.6 660.8,222.9 662.9,216.7 665.0,208.3Z M700.1,155.2 722.5,153.6 721.5,158.3 718.3,161.5 715.2,164.6 716.2,168.2 709.0,170.3 700.6,169.3Z M735.0,155.7 743.3,156.2 743.3,177.1 737.1,176.6 734.5,172.4 729.3,171.9 731.9,163.5Z M722.5,153.6 735.0,155.7 731.9,163.5 729.3,171.9 723.5,170.3 718.3,168.2 716.2,168.2 715.2,164.6 718.3,161.5 721.5,158.3Z M709.0,170.3 716.2,168.2 718.3,170.8 722.5,176.0 726.7,182.3 725.1,184.4 720.9,184.9 720.4,187.5 716.8,188.0 716.2,185.9 710.5,184.4 711.0,176.0Z M724.6,202.1 728.8,200.0 730.8,204.2 729.8,208.3 728.2,214.6 721.5,215.6 714.2,213.5 718.3,208.3Z M665.2,246.4 680.8,244.8 694.4,244.3 698.5,245.8 695.4,250.0 665.2,250.0Z M665.0,246.2 680.0,245.7 680.0,258.2 677.5,255.6 674.4,253.5 671.2,253.5 669.2,255.6 666.6,254.6Z M540.4,217.4 543.5,216.9 551.9,221.0 556.0,223.1 555.5,225.7 550.8,225.2 543.5,225.2 541.5,221.0Z M656.1,178.1 659.8,175.0 664.5,170.3 667.6,175.0 669.2,180.2 669.7,184.4 662.9,181.2 657.7,180.2Z M654.6,185.4 657.7,180.2 662.9,181.2 669.7,184.4 669.2,193.8 660.8,192.7 654.6,191.7Z M540.0,200.0 543.1,196.9 546.2,193.8 549.4,199.0 549.9,206.2 548.9,209.9 544.2,210.4 540.0,204.2Z M669.7,184.4 671.5,180.2 673.5,184.4 680.8,185.9 687.6,185.9 690.2,193.2 680.8,193.2 674.6,193.8 669.2,194.0Z M674.6,193.8 680.8,193.2 690.2,193.2 688.1,199.0 686.6,205.2 685.5,211.5 684.5,212.0 680.8,208.3 679.3,203.1 677.2,199.0Z M677.7,206.2 679.3,203.1 680.8,208.3 684.5,212.0 686.0,218.8 688.1,224.0 680.8,227.6 673.0,229.2 671.5,224.0 673.0,216.7 675.6,210.4Z M710.0,193.8 724.6,195.8 728.8,200.0 722.5,205.2 718.3,208.3 714.2,213.5 711.0,212.5 706.9,209.4 705.8,204.2 707.4,199.0Z M692.3,215.1 696.5,219.8 702.7,225.0 705.8,220.8 710.0,216.1 711.0,212.5 706.9,209.4 701.7,211.5 693.3,213.5Z M660.0,240.6 662.1,239.6 666.2,237.5 670.4,236.5 676.1,235.4 677.2,239.6 678.8,242.7 680.8,244.8 665.2,246.4 663.1,245.8 660.0,243.8Z M714.2,243.8 720.4,240.6 726.7,239.6 726.7,250.0 714.2,250.0Z M669.2,194.0 674.6,193.8 677.2,199.0 679.3,203.1 677.7,206.2 673.5,203.1 667.3,201.6 664.7,201.0 666.8,200.0 667.8,195.8Z M714.2,243.1 726.7,240.0 728.2,252.5 716.2,255.1 714.7,253.5 714.2,247.8Z M532.6,225.2 537.3,226.2 542.0,225.7 538.3,230.4 535.2,235.1 533.6,237.7 533.1,239.8 527.4,234.1 529.0,229.9 531.6,226.2Z M561.9,252.5 565.5,250.4 574.4,253.5 574.9,258.2 575.9,267.1 571.2,267.1 568.1,264.0 565.0,258.8Z" fill="#CBD8E0"/>
<path d="M480.5,212.7 481.6,213.8 487.3,217.4 490.9,222.3 485.7,225.2 480.0,228.3 477.4,232.0 478.4,237.7 472.2,237.2 470.6,235.1 467.5,234.1 463.9,230.9 471.7,222.6Z M499.8,217.4 505.0,212.2 509.2,212.2 515.4,212.7 518.0,214.8 518.8,226.2 511.2,225.2 505.0,226.8 504.0,226.2 502.4,221.0Z M646.2,111.0 648.3,107.9 649.9,103.8 652.5,101.7 654.6,105.8 656.1,112.1 656.1,118.3 655.6,126.7 653.5,126.7 649.4,124.6 646.8,120.4Z M602.5,96.5 612.9,92.8 620.2,96.5 626.5,99.1 622.3,105.8 616.6,114.2 606.7,111.0 606.1,102.7Z M710.5,184.4 716.2,185.9 716.8,188.0 720.4,187.5 720.9,184.9 725.1,184.4 728.8,183.3 729.8,189.1 726.7,191.7 724.6,195.8 710.0,193.8 711.0,188.5Z M690.2,193.2 695.4,191.7 699.6,190.6 709.0,194.3 707.4,199.0 705.8,204.2 706.9,209.4 701.7,211.5 693.3,213.5 685.5,211.5 686.6,205.2 688.1,199.0Z M734.0,155.8 738.1,160.0 740.2,156.9 742.3,154.3 746.5,154.8 743.3,160.0 734.0,160.0Z" fill="#A2C3D7"/></g><use href="#lines"/></g>
<rect x="350.2" y="526.85" width="642.8" height="413.0" rx="4" ry="4" fill="none" stroke="#000" stroke-width="1.9"/>
<rect x="739.3" y="625.3" width="223.6" height="285.1" rx="4.5" ry="4.5" fill="#fff" stroke="#000" stroke-width="1.9"/>
<text x="749.5" y="662.6" font-size="29.45">AGED</text>
<rect x="750.4" y="678.70" width="31.6" height="32" rx="4" ry="4" fill="#EFF3FF"/>
<text x="788.8" y="703.70" font-size="21.7">0 to 4,048</text>
<rect x="750.4" y="716.35" width="31.6" height="32" rx="4" ry="4" fill="#BDD7E7"/>
<text x="788.8" y="741.35" font-size="21.7">4,048 to 8,096</text>
<rect x="750.4" y="754.00" width="31.6" height="32" rx="4" ry="4" fill="#6BAED6"/>
<text x="788.8" y="779.00" font-size="21.7">8,096 to 12,144</text>
<rect x="750.4" y="791.65" width="31.6" height="32" rx="4" ry="4" fill="#3182BD"/>
<text x="788.8" y="816.65" font-size="21.7">12,144 to 16,192</text>
<rect x="750.4" y="829.30" width="31.6" height="32" rx="4" ry="4" fill="#08519C"/>
<text x="788.8" y="854.30" font-size="21.7">16,192 to 20,240</text>
<rect x="750.4" y="866.95" width="31.6" height="32" rx="4" ry="4" fill="#ADADAD"/>
<text x="788.8" y="891.95" font-size="21.7">Missing</text>
</svg>
</body></html>
